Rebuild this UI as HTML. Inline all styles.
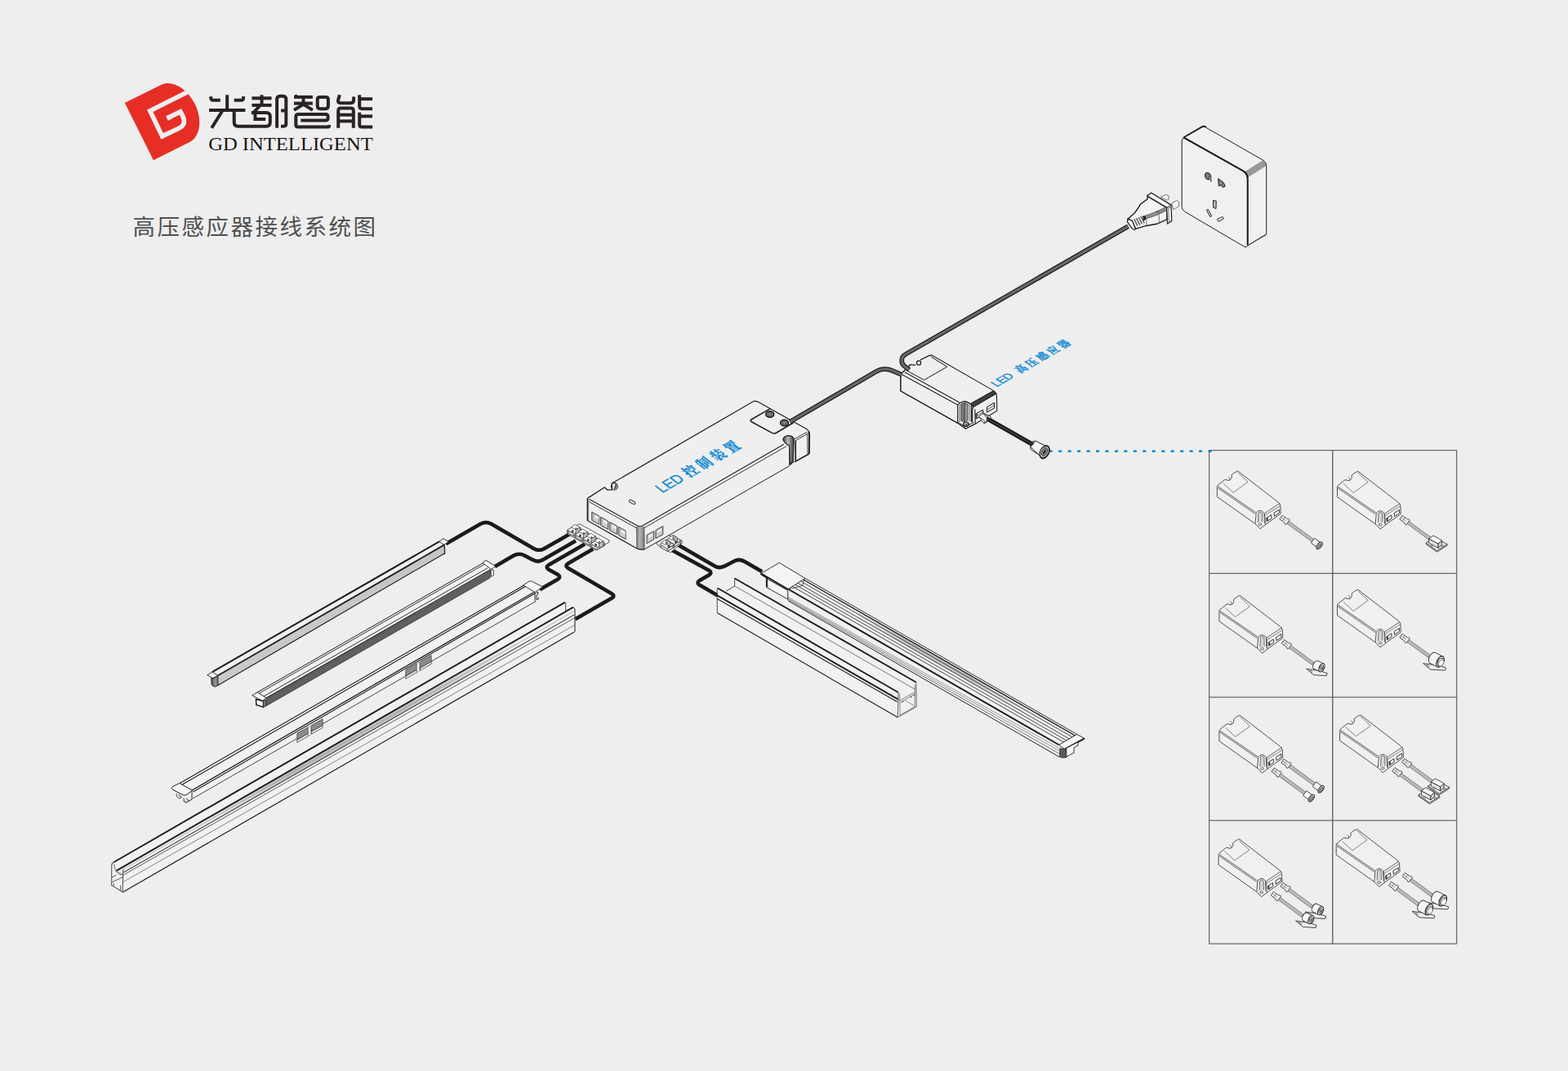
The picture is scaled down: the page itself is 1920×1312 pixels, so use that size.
<!DOCTYPE html>
<html><head><meta charset="utf-8"><title>GD Intelligent wiring diagram</title>
<style>html,body{margin:0;padding:0;background:#eeeeee;}svg{display:block}text{font-family:"Liberation Sans",sans-serif}</style>
</head><body>
<svg width="1920" height="1312" viewBox="0 0 1920 1312">
<rect width="1920" height="1312" fill="#eeeeee"/>
<path d="M152.8,126.1 L197.2,103.9 C210.3,97.3 228.8,107.7 238.5,127.1 C248.2,146.5 245.4,167.5 232.3,174.1 L187.9,196.3Z" fill="#e62e27"/>
<path d="M235.0,110.0 L183.7,135.7 L198.7,166.9 L219.4,157.0 C223.6,155.0 226.0,151.5 225.3,147.0 C224.8,143.5 223.3,140.5 221.0,136.9 L206.8,143.6 L208.2,146.6" fill="none" stroke="#eeeeee" stroke-width="5.6" stroke-linejoin="miter" stroke-miterlimit="6"/>
<g fill="none" stroke="#2a2323" stroke-width="4.0" stroke-linejoin="miter"><path d="M278.1,116.3 L278.1,134.9"/><path d="M258.0,118.2 L258.3,120.5 Q258.6,122.8 260.9,122.8 L269.8,122.8"/><path d="M298.2,118.2 L298.0,120.5 Q297.7,122.8 295.4,122.8 L286.7,122.8"/><path d="M256.0,134.9 L300.4,134.9"/><path d="M272.1,136.0 L259.2,156.7"/><path d="M286.7,134.9 L286.7,149.8 Q286.7,154.7 291.5,154.7 L325.9,154.7 Q330.8,154.7 330.8,149.8 L330.8,142.9 Q330.8,138.1 325.9,138.1 L307.9,138.1"/><path d="M308.4,120.3 L332.5,120.3"/><path d="M320.5,116.3 L320.5,128.9"/><path d="M308.4,128.9 L332.5,128.9"/><path d="M317.9,129.8 L309.0,139.5"/><path d="M312.4,138.9 L312.4,146.1 L325.1,146.1"/><path d="M339.1,156.7 L339.1,121.8 Q339.1,117.7 343.1,117.7 L346.2,117.7 Q350.3,117.7 350.3,121.8 L350.3,151.5 Q350.3,154.7 347.1,154.7 L344.0,154.7"/><path d="M344.0,135.5 L350.3,135.5"/><path d="M363.8,116.5 L361.5,119.5"/><path d="M360.0,118.9 L382.9,118.9"/><path d="M360.0,126.6 L382.9,126.6"/><path d="M371.5,118.9 L371.5,127.8"/><path d="M371.5,127.8 L360.0,134.9"/><path d="M371.5,127.8 L382.9,134.9"/><path d="M388.7,122.0 Q388.7,118.9 391.8,118.9 L398.7,118.9 Q401.9,118.9 401.9,122.0 L401.9,130.1 Q401.9,133.2 398.7,133.2 L391.8,133.2 Q388.7,133.2 388.7,130.1Z"/><path d="M368.3,147.5 L398.7,147.5 Q401.6,147.5 401.6,144.7 L401.6,142.9 Q401.6,140.1 398.7,140.1 L365.2,140.1 Q362.3,140.1 362.3,142.9 L362.3,152.7 Q362.3,155.6 365.2,155.6 L401.7,155.6 Q403.0,155.6 403.0,154.3 L403.0,153.0"/><path d="M415.9,116.3 L414.1,122.4 Q413.0,126.2 417.0,126.2 L429.3,126.2 Q433.1,126.2 433.1,122.4 L433.1,118.6"/><path d="M414.2,156.7 L414.2,135.8 Q414.2,132.6 417.3,132.6 L429.6,132.6 Q432.8,132.6 432.8,135.8 L432.8,156.7"/><path d="M414.2,140.7 L432.8,140.7"/><path d="M414.2,148.4 L432.8,148.4"/><path d="M440.2,116.3 L440.2,130.3 Q440.2,133.2 443.1,133.2 L456.0,133.2"/><path d="M440.2,121.2 L456.0,121.2"/><path d="M440.2,137.8 L440.2,152.7 Q440.2,155.6 443.1,155.6 L456.0,155.6"/><path d="M440.2,142.4 L456.0,142.4"/></g>
<text x="255.2" y="184.3" style="font-family:&quot;Liberation Serif&quot;,serif" font-size="22.6" fill="#1c1414" textLength="201.5" lengthAdjust="spacingAndGlyphs">GD INTELLIGENT</text>
<g transform="translate(162.50,287.50)" fill="#505050"><text x="0 30 60 90 120 150 180 210 240 270" y="0" font-size="27.5" style="font-family:&quot;Liberation Sans&quot;,&quot;Noto Sans CJK SC&quot;,sans-serif">高压感应器接线系统图</text></g>
<rect x="1480.7" y="551.7" width="303" height="604.4" fill="none" stroke="#4a4a4a" stroke-width="1"/>
<path d="M1631.8,551.7 L1631.8,1156.1" stroke="#4a4a4a" stroke-width="1.2" fill="none" />
<path d="M1480.7,702.4 L1783.7,702.4" stroke="#4a4a4a" stroke-width="1" fill="none" />
<path d="M1480.7,854.1 L1783.7,854.1" stroke="#4a4a4a" stroke-width="1" fill="none" />
<path d="M1480.7,1005.1 L1783.7,1005.1" stroke="#4a4a4a" stroke-width="1" fill="none" />
<path d="M1284.7,552.8 L1484,552.8" stroke="#0b86d1" stroke-width="2.4" stroke-dasharray="4 7.46" fill="none"/>
<path d="M719.7,610.3 L740.3,597.0 L748.5,592.4 L923.0,491.5 L925.3,491.0 L988.0,525.8 L990.7,529.5 L990.7,556.0 L974.2,565.1 L966.9,570.6 L789.2,672.9 L784.2,673.8 L780.0,672.0 L719.4,637.7Z" stroke="none" stroke-width="0" fill="#efefef" />
<defs><linearGradient id="gcor" x1="0" x2="1" y1="0" y2="0"><stop offset="0" stop-color="#6e6e6e"/><stop offset="0.35" stop-color="#b5b5b5"/><stop offset="0.7" stop-color="#9a9a9a"/><stop offset="1" stop-color="#6a6a6a"/></linearGradient><linearGradient id="gleft" x1="0" x2="1" y1="0" y2="0"><stop offset="0" stop-color="#222"/><stop offset="0.5" stop-color="#777" stop-opacity="0.8"/><stop offset="1" stop-color="#cfcfcf" stop-opacity="0"/></linearGradient></defs>
<path d="M779.4,645.2 L784.2,644.3 L788.9,645.2 L789.2,672.5 L784.2,673.8 L779.8,671.7Z" stroke="none" stroke-width="0" fill="url(#gcor)" />
<path d="M718.8,610.7 L722.0,611.9 L722.0,639.1 L718.8,637.5Z" stroke="none" stroke-width="0" fill="url(#gleft)" />
<path d="M720.3,609.9 L740.3,597.0 L743.7,600.0 L749.0,600.2" stroke="#1f1f1f" stroke-width="1.3" fill="none" />
<ellipse cx="752.3" cy="595.9" rx="3.9" ry="4.3" fill="#f4f4f4" stroke="#1f1f1f" stroke-width="1.1"/>
<path d="M752.6,592.0 Q757.2,594.7 753.5,599.5 L751.2,598.8 Q754.0,595.2 752.6,592.0Z" stroke="none" stroke-width="0" fill="#555" />
<path d="M749.4,600.2 L749.4,594.0" stroke="#1f1f1f" stroke-width="1.2" fill="none" />
<path d="M748.5,592.6 L922.8,491.6 Q925.3,491.0 927.8,492.1 L988.0,525.8 Q990.5,527.5 990.7,530.4" stroke="#1f1f1f" stroke-width="1.2" fill="none" />
<path d="M990.3,528.5 L990.9,531.3 L990.7,556.0" stroke="#1f1f1f" stroke-width="2.2" fill="none" />
<path d="M720.3,609.9 Q719.4,610.4 719.4,612.1 L719.4,637.7 L780.0,672.0 Q784.2,673.8 789.2,672.9" stroke="#1f1f1f" stroke-width="1.3" fill="none" />
<path d="M789.2,672.9 L966.9,570.6" stroke="#1f1f1f" stroke-width="1.0" fill="none" />
<path d="M721.5,611.4 L780.5,644.1 Q784.2,645.5 787.8,643.6 L959.8,544.3" stroke="#1f1f1f" stroke-width="1.1" fill="none" />
<path d="M721.2,614.6 L779.6,647.0" stroke="#1f1f1f" stroke-width="0.9" fill="none" />
<path d="M789.2,646.5 L962.8,546.7" stroke="#1f1f1f" stroke-width="0.9" fill="none" />
<path d="M779.4,645.2 L779.8,671.7" stroke="#555" stroke-width="0.8" fill="none" />
<path d="M788.9,645.2 L789.2,672.5" stroke="#555" stroke-width="0.8" fill="none" />
<path d="M724.7,627.2 L733.7,632.2 L733.7,642.5 L724.7,637.4Z" stroke="#3a3a3a" stroke-width="0.9" fill="#b4b4b4" />
<path d="M727.8,630.2 L733.2,633.2 L733.2,636.8 L727.8,633.8Z" stroke="none" stroke-width="0" fill="#f0f0f0" />
<path d="M726.9,634.1 L733.4,637.7" stroke="#e6e6e6" stroke-width="0.7" fill="none" />
<path d="M726.9,635.4 L733.4,639.0" stroke="#e6e6e6" stroke-width="0.7" fill="none" />
<path d="M726.9,636.7 L733.4,640.4" stroke="#e6e6e6" stroke-width="0.7" fill="none" />
<path d="M735.5,633.2 L744.5,638.3 L744.5,648.5 L735.5,643.5Z" stroke="#3a3a3a" stroke-width="0.9" fill="#b4b4b4" />
<path d="M738.6,636.2 L744.0,639.2 L744.0,642.8 L738.6,639.8Z" stroke="none" stroke-width="0" fill="#f0f0f0" />
<path d="M737.7,640.1 L744.2,643.7" stroke="#e6e6e6" stroke-width="0.7" fill="none" />
<path d="M737.7,641.4 L744.2,645.1" stroke="#e6e6e6" stroke-width="0.7" fill="none" />
<path d="M737.7,642.8 L744.2,646.4" stroke="#e6e6e6" stroke-width="0.7" fill="none" />
<path d="M746.3,639.3 L755.3,644.3 L755.3,654.5 L746.3,649.5Z" stroke="#3a3a3a" stroke-width="0.9" fill="#b4b4b4" />
<path d="M749.4,642.3 L754.8,645.3 L754.8,648.9 L749.4,645.8Z" stroke="none" stroke-width="0" fill="#f0f0f0" />
<path d="M748.5,646.2 L755.0,649.8" stroke="#e6e6e6" stroke-width="0.7" fill="none" />
<path d="M748.5,647.5 L755.0,651.1" stroke="#e6e6e6" stroke-width="0.7" fill="none" />
<path d="M748.5,648.8 L755.0,652.4" stroke="#e6e6e6" stroke-width="0.7" fill="none" />
<path d="M757.1,645.3 L766.1,650.3 L766.1,660.6 L757.1,655.5Z" stroke="#3a3a3a" stroke-width="0.9" fill="#b4b4b4" />
<path d="M760.2,648.3 L765.6,651.3 L765.6,654.9 L760.2,651.9Z" stroke="none" stroke-width="0" fill="#f0f0f0" />
<path d="M759.3,652.2 L765.8,655.8" stroke="#e6e6e6" stroke-width="0.7" fill="none" />
<path d="M759.3,653.5 L765.8,657.1" stroke="#e6e6e6" stroke-width="0.7" fill="none" />
<path d="M759.3,654.9 L765.8,658.5" stroke="#e6e6e6" stroke-width="0.7" fill="none" />
<path d="M792.0,655.5 L800.8,650.6 L800.8,660.8 L792.0,665.8Z" stroke="#3a3a3a" stroke-width="0.9" fill="#b4b4b4" />
<path d="M793.7,656.0 L799.0,653.0 L799.0,656.4 L793.7,659.4Z" stroke="none" stroke-width="0" fill="#f0f0f0" />
<path d="M792.8,660.7 L799.5,657.0" stroke="#e6e6e6" stroke-width="0.7" fill="none" />
<path d="M792.8,662.0 L799.5,658.3" stroke="#e6e6e6" stroke-width="0.7" fill="none" />
<path d="M792.8,663.3 L799.5,659.6" stroke="#e6e6e6" stroke-width="0.7" fill="none" />
<path d="M802.9,649.4 L811.8,644.5 L811.8,654.7 L802.9,659.7Z" stroke="#3a3a3a" stroke-width="0.9" fill="#b4b4b4" />
<path d="M804.7,649.9 L810.0,646.9 L810.0,650.3 L804.7,653.2Z" stroke="none" stroke-width="0" fill="#f0f0f0" />
<path d="M803.8,654.6 L810.5,650.8" stroke="#e6e6e6" stroke-width="0.7" fill="none" />
<path d="M803.8,655.9 L810.5,652.2" stroke="#e6e6e6" stroke-width="0.7" fill="none" />
<path d="M803.8,657.2 L810.5,653.5" stroke="#e6e6e6" stroke-width="0.7" fill="none" />
<rect x="769.9" y="613.5" width="8.4" height="3" rx="1.5" fill="#f6f6f6" stroke="#1f1f1f" stroke-width="0.9" transform="rotate(29 774.1 615.0)"/>
<path d="M943.1,500.6 L920.3,513.7 Q917.7,515.3 920.3,516.8 L945.4,530.4 Q947.9,531.8 950.5,530.2 L971.5,517.8" stroke="#1f1f1f" stroke-width="1.6" fill="none" />
<ellipse cx="942.7" cy="507.5" rx="5" ry="3.7" fill="#777" stroke="#1a1a1a" stroke-width="1.5"/>
<ellipse cx="942.7" cy="507.5" rx="2.2" ry="1.6" fill="#999" stroke="#333" stroke-width="0.6"/>
<ellipse cx="960.5" cy="518.0" rx="5" ry="3.7" fill="#777" stroke="#1a1a1a" stroke-width="1.5"/>
<ellipse cx="960.5" cy="518.0" rx="2.2" ry="1.6" fill="#999" stroke="#333" stroke-width="0.6"/>
<defs><linearGradient id="ggr" x1="0" x2="1" y1="0" y2="0"><stop offset="0" stop-color="#444"/><stop offset="0.45" stop-color="#bbb"/><stop offset="0.75" stop-color="#777"/><stop offset="1" stop-color="#333"/></linearGradient></defs>
<path d="M958.7,538.2 Q960.0,534.0 965.5,533.6 Q971.5,534.0 972.2,538.2 L971.0,566.1 L966.9,569.3 L966.5,545.9 Q960.5,543.2 958.7,538.2Z" stroke="#1f1f1f" stroke-width="1.1" fill="url(#ggr)" />
<path d="M966.5,545.9 L966.9,569.3 L969.2,568.4 L969.2,565.1" stroke="#1f1f1f" stroke-width="1.0" fill="none" />
<path d="M972.2,538.2 L988.0,529.3" stroke="#1f1f1f" stroke-width="0.9" fill="none" />
<path d="M974.2,539.7 L974.2,565.1 L990.7,556.0" stroke="#1f1f1f" stroke-width="1.6" fill="none" />
<path d="M974.2,539.7 L989.3,531.1" stroke="#1f1f1f" stroke-width="0.9" fill="none" />
<path d="M988.4,530.8 L988.9,556.5" stroke="#444" stroke-width="0.8" fill="none" />
<path d="M972.0,538.6 L971.5,566.1 L974.2,565.1" stroke="#444" stroke-width="0.8" fill="none" />
<g transform="matrix(0.7140,-0.4125,0.8120,0.6360,811.95,603.75)" fill="#128ad2" stroke="#128ad2" stroke-width="0.35"><text x="0" y="0" font-size="18.5" transform="translate(-1.2,0) scale(1.1,1)" style="font-family:&quot;Liberation Sans&quot;,sans-serif">LED</text><text x="45.4 69.2 93 116.8" y="0" font-size="18.5" font-weight="700" style="font-family:&quot;Liberation Serif&quot;,&quot;Noto Serif CJK SC&quot;,serif">控制装置</text></g>
<path d="M1103.7,457.5 L1140.8,435.1 L1216.7,478.6 L1220.4,483.1 L1220.8,503.3 L1194.3,519.3 L1182.4,525.2 L1172.8,518.4 L1102.8,479.0Z" stroke="none" stroke-width="0" fill="#efefef" />
<path d="M1140.8,435.1 L1216.7,478.6 Q1219.9,480.6 1220.4,484.0 L1220.8,503.3 L1194.3,519.3" stroke="#1f1f1f" stroke-width="1.1" fill="none" />
<path d="M1140.8,435.1 L1137.6,435.7 L1127.0,440.9 M1121.1,447.3 L1114.5,446.7 L1103.7,457.7" stroke="#1f1f1f" stroke-width="1.3" fill="none" />
<circle cx="1125.0" cy="444.5" r="2.6" fill="#f6f6f6" stroke="#1f1f1f" stroke-width="1.3"/>
<path d="M1139.9,436.9 L1159.7,449.3 L1131.6,465.5 L1110.3,454.0" stroke="#333" stroke-width="0.8" fill="none" />
<path d="M1103.7,457.7 L1102.8,460.3 L1102.8,479.0 L1172.8,518.4" stroke="#1f1f1f" stroke-width="1.1" fill="none" />
<path d="M1107.8,455.9 L1175.1,493.2" stroke="#1f1f1f" stroke-width="0.9" fill="none" />
<path d="M1104.6,458.9 L1172.8,496.1" stroke="#1f1f1f" stroke-width="0.9" fill="none" />
<path d="M1188.3,494.6 L1216.7,478.6 L1219.7,482.4 L1191.4,498.9Z" stroke="#222" stroke-width="0.8" fill="#3d3d3d" />
<path d="M1191.4,498.9 L1190.6,502.3 L1190.6,517.0" stroke="#1f1f1f" stroke-width="1.0" fill="none" />
<path d="M1193.8,501.4 L1194.3,519.3" stroke="#333" stroke-width="0.8" fill="none" />
<defs><linearGradient id="gboss" x1="0" x2="1" y1="0" y2="0"><stop offset="0" stop-color="#555"/><stop offset="0.3" stop-color="#8a8a8a"/><stop offset="0.5" stop-color="#444"/><stop offset="0.75" stop-color="#b0b0b0"/><stop offset="1" stop-color="#666"/></linearGradient></defs>
<path d="M1172.8,518.4 L1172.8,496.4 Q1180.1,487.7 1189.3,495.9 L1189.3,517.0" stroke="#1f1f1f" stroke-width="1.1" fill="#f2f2f2" />
<path d="M1175.1,517.0 L1175.1,496.9 Q1180.6,490.4 1187.0,496.9 L1187.0,516.1" stroke="#333" stroke-width="0.8" fill="none" />
<path d="M1176.9,515.6 L1176.9,495.9 Q1180.8,491.8 1185.0,495.9 L1185.0,515.1 Q1181.0,517.9 1176.9,515.6Z" stroke="#333" stroke-width="0.6" fill="url(#gboss)" />
<path d="M1172.8,518.4 L1182.4,525.2 L1194.3,519.3" stroke="#1f1f1f" stroke-width="1.1" fill="none" />
<path d="M1172.8,517.0 L1182.0,522.9 L1192.5,517.4" stroke="#333" stroke-width="0.8" fill="none" />
<ellipse cx="1182.9" cy="519.5" rx="3.1" ry="2.5" fill="#cfcfcf" stroke="#1a1a1a" stroke-width="1.2"/>
<ellipse cx="1183.2" cy="519.8" rx="1.3" ry="1.0" fill="#333"/>
<path d="M1194.8,507.1 L1203.5,502.1 L1203.9,507.8 L1195.2,512.9Z" stroke="#222" stroke-width="1.0" fill="#f3f3f3" />
<path d="M1194.8,510.1 L1203.5,505.1" stroke="#222" stroke-width="0.8" fill="none" />
<path d="M1194.8,507.1 L1194.8,512.4 L1197.0,511.5 L1197.0,506.0Z" stroke="none" stroke-width="0" fill="#555" />
<path d="M1208.5,498.9 L1217.6,493.4 L1217.6,499.8 L1208.5,504.9Z" stroke="#222" stroke-width="1.0" fill="#f3f3f3" />
<path d="M1208.5,501.9 L1217.6,496.7" stroke="#222" stroke-width="0.8" fill="none" />
<path d="M1210.2,513.7 L1263.7,544.2" stroke="#1e1e1e" stroke-width="5.4" fill="none" />
<path d="M1211.3,513.0 L1264.4,543.4" stroke="#3a3a3a" stroke-width="0.9" fill="none" />
<path d="M1198.6,510.6 L1204.8,506.1 L1213.3,510.6 L1212.6,513.7 L1206.8,518.1 L1204.8,517.8Z" stroke="#333" stroke-width="0.9" fill="#f4f4f4" />
<path d="M1200.3,509.9 L1207.2,514.0 L1206.8,517.8" stroke="#333" stroke-width="0.8" fill="none" />
<path d="M1204.8,506.5 L1210.6,510.2 L1207.5,513.0" stroke="#777" stroke-width="0.7" fill="none" />
<path d="M1263.0,542.8 Q1263.7,540.4 1266.5,540.4 L1281.6,546.9 L1273.7,558.2 L1262.4,550.7 Q1261.0,549.0 1262.0,545.6Z" stroke="#222" stroke-width="1.0" fill="#f8f8f8" />
<ellipse cx="1279.2" cy="553.9" rx="5.0" ry="8.3" transform="rotate(27 1279.2 553.9)" fill="#d9d9d9" stroke="#1a1a1a" stroke-width="1.6"/>
<ellipse cx="1279.2" cy="553.9" rx="3.2" ry="6.0" transform="rotate(27 1279.2 553.9)" fill="#a8a8a8" stroke="#444" stroke-width="0.7"/>
<ellipse cx="1278.9" cy="553.9" rx="1.2" ry="3.4" transform="rotate(27 1279.2 553.9)" fill="#111"/>
<path d="M1139.9,436.9 L1159.7,449.3 L1131.6,465.5 L1110.3,454.0" stroke="#333" stroke-width="0.8" fill="none" />
<path d="M1103.7,457.7 L1102.8,460.3 L1102.8,479.0 L1172.8,518.4" stroke="#1f1f1f" stroke-width="1.1" fill="none" />
<path d="M1107.8,455.9 L1175.1,493.2" stroke="#1f1f1f" stroke-width="0.9" fill="none" />
<path d="M1104.6,458.9 L1172.8,496.1" stroke="#1f1f1f" stroke-width="0.9" fill="none" />
<path d="M1188.3,494.6 L1216.7,478.6 L1219.7,482.4 L1191.4,498.9Z" stroke="#222" stroke-width="0.8" fill="#3d3d3d" />
<path d="M1191.4,498.9 L1190.6,502.3 L1190.6,517.0" stroke="#1f1f1f" stroke-width="1.0" fill="none" />
<path d="M1193.8,501.4 L1194.3,519.3" stroke="#333" stroke-width="0.8" fill="none" />
<defs><linearGradient id="gboss" x1="0" x2="1" y1="0" y2="0"><stop offset="0" stop-color="#555"/><stop offset="0.3" stop-color="#8a8a8a"/><stop offset="0.5" stop-color="#444"/><stop offset="0.75" stop-color="#b0b0b0"/><stop offset="1" stop-color="#666"/></linearGradient></defs>
<path d="M1172.8,518.4 L1172.8,496.4 Q1180.1,487.7 1189.3,495.9 L1189.3,517.0" stroke="#1f1f1f" stroke-width="1.1" fill="#f2f2f2" />
<path d="M1175.1,517.0 L1175.1,496.9 Q1180.6,490.4 1187.0,496.9 L1187.0,516.1" stroke="#333" stroke-width="0.8" fill="none" />
<path d="M1176.9,515.6 L1176.9,495.9 Q1180.8,491.8 1185.0,495.9 L1185.0,515.1 Q1181.0,517.9 1176.9,515.6Z" stroke="#333" stroke-width="0.6" fill="url(#gboss)" />
<path d="M1172.8,518.4 L1182.4,525.2 L1194.3,519.3" stroke="#1f1f1f" stroke-width="1.1" fill="none" />
<path d="M1172.8,517.0 L1182.0,522.9 L1192.5,517.4" stroke="#333" stroke-width="0.8" fill="none" />
<ellipse cx="1182.9" cy="519.5" rx="3.1" ry="2.5" fill="#cfcfcf" stroke="#1a1a1a" stroke-width="1.2"/>
<ellipse cx="1183.2" cy="519.8" rx="1.3" ry="1.0" fill="#333"/>
<path d="M1194.8,507.1 L1203.5,502.1 L1203.9,507.8 L1195.2,512.9Z" stroke="#222" stroke-width="1.0" fill="#f3f3f3" />
<path d="M1194.8,510.1 L1203.5,505.1" stroke="#222" stroke-width="0.8" fill="none" />
<path d="M1194.8,507.1 L1194.8,512.4 L1197.0,511.5 L1197.0,506.0Z" stroke="none" stroke-width="0" fill="#555" />
<path d="M1208.5,498.9 L1217.6,493.4 L1217.6,499.8 L1208.5,504.9Z" stroke="#222" stroke-width="1.0" fill="#f3f3f3" />
<path d="M1208.5,501.9 L1217.6,496.7" stroke="#222" stroke-width="0.8" fill="none" />
<path d="M1208.0,512.6 L1264.7,544.3" stroke="#1c1c1c" stroke-width="4.6" fill="none" />
<path d="M1208.0,512.6 L1264.7,544.3" stroke="#555" stroke-width="1.0" fill="none" />
<path d="M1198.4,510.1 L1203.9,506.5 L1208.9,510.1 L1207.6,517.0 L1204.8,518.8Z" stroke="#333" stroke-width="0.9" fill="#f4f4f4" />
<path d="M1200.2,511.5 L1205.7,515.6 L1205.5,518.4" stroke="#333" stroke-width="0.8" fill="none" />
<path d="M1203.9,506.5 L1208.0,512.4" stroke="#555" stroke-width="0.7" fill="none" />
<defs><linearGradient id="ghead" x1="0" x2="1" y1="0" y2="1"><stop offset="0" stop-color="#fff"/><stop offset="1" stop-color="#e4e4e4"/></linearGradient></defs>
<path d="M1262.1,547.6 L1268.2,540.0 L1281.2,546.9 L1275.8,560.6Z" stroke="#222" stroke-width="1.0" fill="#f7f7f7" />
<ellipse cx="1278.9" cy="553.7" rx="5.2" ry="7.8" transform="rotate(28 1278.9 553.7)" fill="#d8d8d8" stroke="#1a1a1a" stroke-width="1.2"/>
<ellipse cx="1278.9" cy="553.7" rx="3.2" ry="5.6" transform="rotate(28 1278.9 553.7)" fill="#8a8a8a" stroke="#222" stroke-width="0.8"/>
<ellipse cx="1278.9" cy="553.7" rx="1.2" ry="3.2" transform="rotate(28 1278.9 553.7)" fill="#222"/>
<g transform="matrix(0.7150,-0.4130,0.8460,0.5330,1221.25,473.75)" fill="#128ad2" stroke="#128ad2" stroke-width="0.35"><text x="0" y="0" font-size="14.5" transform="translate(-1.2,0) scale(1.1,1)" style="font-family:&quot;Liberation Sans&quot;,sans-serif">LED</text><text x="39.5 57.8 76.1 94.4 112.7" y="0" font-size="14.5" font-weight="700" style="font-family:&quot;Liberation Serif&quot;,&quot;Noto Serif CJK SC&quot;,serif">高压感应器</text></g>
<path d="M1381.5,277.3 L1108.6,434.1 Q1104.5,436.5 1104.2,441.2 L1104.2,441.2 Q1104.0,446.0 1107.8,448.8 L1113.5,453.0" stroke="#1a1a1a" stroke-width="5.7" fill="none" stroke-linecap="butt"/><path d="M1381.5,277.3 L1108.6,434.1 Q1104.5,436.5 1104.2,441.2 L1104.2,441.2 Q1104.0,446.0 1107.8,448.8 L1113.5,453.0" stroke="#686868" stroke-width="3.3" fill="none" stroke-linecap="butt"/>
<path d="M1104.5,459.2 L1093.3,454.3 Q1088.5,452.2 1083.2,452.2 L1083.2,452.2 Q1078.0,452.2 1073.5,454.8 L967.2,516.8" stroke="#1a1a1a" stroke-width="5.7" fill="none" stroke-linecap="butt"/><path d="M1104.5,459.2 L1093.3,454.3 Q1088.5,452.2 1083.2,452.2 L1083.2,452.2 Q1078.0,452.2 1073.5,454.8 L967.2,516.8" stroke="#686868" stroke-width="3.3" fill="none" stroke-linecap="butt"/>
<path d="M698.1,654.0 L666.5,671.9 Q660.0,675.6 653.5,671.9 L601.5,641.8 Q595.0,638.1 588.5,641.8 L546.0,666.3" stroke="#1b1b1b" stroke-width="4.6" fill="none" stroke-linejoin="round"/>
<path d="M705.0,662.5 L665.2,685.6 Q658.8,689.4 652.2,685.8 L642.2,680.5 Q635.6,676.9 629.1,680.6 L606.0,693.9" stroke="#1b1b1b" stroke-width="4.6" fill="none" stroke-linejoin="round"/>
<path d="M716.2,666.4 L672.4,691.7 Q667.0,694.8 672.4,697.9 L682.4,703.6 Q687.8,706.8 682.4,709.9 L661.0,722.2" stroke="#1b1b1b" stroke-width="4.6" fill="none" stroke-linejoin="round"/>
<path d="M726.2,672.6 L696.1,690.0 Q690.8,693.1 696.1,696.2 L748.6,726.9 Q754.0,730.0 748.6,733.1 L704.4,758.6" stroke="#1b1b1b" stroke-width="4.6" fill="none" stroke-linejoin="round"/>
<path d="M831.2,668.1 L874.8,693.2 Q881.2,696.9 887.9,693.3 L898.4,687.7 Q905.0,684.1 911.5,687.8 L933.1,700.3" stroke="#1b1b1b" stroke-width="4.6" fill="none" stroke-linejoin="round"/>
<path d="M822.5,673.8 L867.6,698.5 Q873.0,701.5 867.7,704.7 L857.2,710.8 Q851.9,714.0 857.3,717.1 L878.8,729.4" stroke="#1b1b1b" stroke-width="4.6" fill="none" stroke-linejoin="round"/>
<path d="M709.6,641.7 L745.8,661.8 L745.8,664.3 L729.0,673.5 L695.0,654.2 L695.0,650.0Z" stroke="#333" stroke-width="0.8" fill="#f3f3f3" />
<path d="M694.7,652.5 L704.3,647.0 L712.2,651.5 L702.7,657.0Z" stroke="#2e2e2e" stroke-width="0.8" fill="#dcdcdc" /><path d="M694.7,649.2 L704.3,643.8 L712.2,648.3 L702.7,653.8Z" stroke="#3a3a3a" stroke-width="0.8" fill="#f6f6f6" /><path d="M694.7,652.5 L694.7,649.2" stroke="#3a3a3a" stroke-width="0.7" fill="none" /><path d="M702.7,657.0 L702.7,653.8" stroke="#3a3a3a" stroke-width="0.7" fill="none" /><path d="M712.2,651.5 L712.2,648.3" stroke="#3a3a3a" stroke-width="0.7" fill="none" /><path d="M699.1,645.6 L704.3,642.6 L710.3,646.0 L705.1,649.1Z" stroke="#3a3a3a" stroke-width="0.7" fill="#fafafa" /><path d="M705.1,654.6 L705.1,649.1 L710.3,646.0 L710.3,651.5Z" stroke="#3a3a3a" stroke-width="0.7" fill="#bdbdbd" /><ellipse cx="701.1" cy="650.9" rx="1.5" ry="1.9" fill="#4a4a4a"/><ellipse cx="705.4" cy="647.8" rx="1.3" ry="1.6" fill="#666"/>
<path d="M704.0,658.1 L713.6,652.6 L721.5,657.1 L712.0,662.6Z" stroke="#2e2e2e" stroke-width="0.8" fill="#dcdcdc" /><path d="M704.0,654.9 L713.6,649.4 L721.5,653.9 L712.0,659.4Z" stroke="#3a3a3a" stroke-width="0.8" fill="#f6f6f6" /><path d="M704.0,658.1 L704.0,654.9" stroke="#3a3a3a" stroke-width="0.7" fill="none" /><path d="M712.0,662.6 L712.0,659.4" stroke="#3a3a3a" stroke-width="0.7" fill="none" /><path d="M721.5,657.1 L721.5,653.9" stroke="#3a3a3a" stroke-width="0.7" fill="none" /><path d="M708.4,651.2 L713.6,648.2 L719.6,651.6 L714.4,654.7Z" stroke="#3a3a3a" stroke-width="0.7" fill="#fafafa" /><path d="M714.4,660.2 L714.4,654.7 L719.6,651.6 L719.6,657.1Z" stroke="#3a3a3a" stroke-width="0.7" fill="#bdbdbd" /><ellipse cx="710.4" cy="656.5" rx="1.5" ry="1.9" fill="#4a4a4a"/><ellipse cx="714.7" cy="653.4" rx="1.3" ry="1.6" fill="#666"/>
<path d="M713.7,663.4 L723.3,657.9 L731.2,662.4 L721.7,667.9Z" stroke="#2e2e2e" stroke-width="0.8" fill="#dcdcdc" /><path d="M713.7,660.1 L723.3,654.6 L731.2,659.2 L721.7,664.7Z" stroke="#3a3a3a" stroke-width="0.8" fill="#f6f6f6" /><path d="M713.7,663.4 L713.7,660.1" stroke="#3a3a3a" stroke-width="0.7" fill="none" /><path d="M721.7,667.9 L721.7,664.7" stroke="#3a3a3a" stroke-width="0.7" fill="none" /><path d="M731.2,662.4 L731.2,659.2" stroke="#3a3a3a" stroke-width="0.7" fill="none" /><path d="M718.1,656.5 L723.3,653.5 L729.3,656.9 L724.1,660.0Z" stroke="#3a3a3a" stroke-width="0.7" fill="#fafafa" /><path d="M724.1,665.5 L724.1,660.0 L729.3,656.9 L729.3,662.4Z" stroke="#3a3a3a" stroke-width="0.7" fill="#bdbdbd" /><ellipse cx="720.1" cy="661.8" rx="1.5" ry="1.9" fill="#4a4a4a"/><ellipse cx="724.4" cy="658.7" rx="1.3" ry="1.6" fill="#666"/>
<path d="M723.1,669.2 L732.7,663.8 L740.6,668.3 L731.1,673.8Z" stroke="#2e2e2e" stroke-width="0.8" fill="#dcdcdc" /><path d="M723.1,666.0 L732.7,660.5 L740.6,665.1 L731.1,670.6Z" stroke="#3a3a3a" stroke-width="0.8" fill="#f6f6f6" /><path d="M723.1,669.2 L723.1,666.0" stroke="#3a3a3a" stroke-width="0.7" fill="none" /><path d="M731.1,673.8 L731.1,670.6" stroke="#3a3a3a" stroke-width="0.7" fill="none" /><path d="M740.6,668.3 L740.6,665.1" stroke="#3a3a3a" stroke-width="0.7" fill="none" /><path d="M727.5,662.4 L732.7,659.4 L738.7,662.8 L733.5,665.9Z" stroke="#3a3a3a" stroke-width="0.7" fill="#fafafa" /><path d="M733.5,671.4 L733.5,665.9 L738.7,662.8 L738.7,668.3Z" stroke="#3a3a3a" stroke-width="0.7" fill="#bdbdbd" /><ellipse cx="729.5" cy="667.7" rx="1.5" ry="1.9" fill="#4a4a4a"/><ellipse cx="733.8" cy="664.6" rx="1.3" ry="1.6" fill="#666"/>
<path d="M804.3,664.8 L818.8,656.0 L835.0,662.1 L835.0,665.4 L821.0,676.8 L804.3,666.8Z" stroke="#333" stroke-width="0.8" fill="#f3f3f3" />
<path d="M825.8,670.0 L816.3,664.5 L824.2,660.0 L833.8,665.5Z" stroke="#2e2e2e" stroke-width="0.8" fill="#dcdcdc" /><path d="M825.8,666.8 L816.3,661.3 L824.2,656.8 L833.8,662.2Z" stroke="#3a3a3a" stroke-width="0.8" fill="#f6f6f6" /><path d="M825.8,670.0 L825.8,666.8" stroke="#3a3a3a" stroke-width="0.7" fill="none" /><path d="M833.8,665.5 L833.8,662.2" stroke="#3a3a3a" stroke-width="0.7" fill="none" /><path d="M824.2,660.0 L824.2,656.8" stroke="#3a3a3a" stroke-width="0.7" fill="none" /><path d="M823.4,662.1 L818.2,659.0 L824.2,655.6 L829.4,658.6Z" stroke="#3a3a3a" stroke-width="0.7" fill="#fafafa" /><path d="M829.4,664.1 L829.4,658.6 L824.2,655.6 L824.2,661.1Z" stroke="#3a3a3a" stroke-width="0.7" fill="#bdbdbd" /><ellipse cx="827.4" cy="663.9" rx="1.5" ry="1.9" fill="#4a4a4a"/><ellipse cx="824.7" cy="659.9" rx="1.3" ry="1.6" fill="#666"/>
<path d="M817.3,675.4 L807.8,669.9 L815.7,665.4 L825.3,670.9Z" stroke="#2e2e2e" stroke-width="0.8" fill="#dcdcdc" /><path d="M817.3,672.2 L807.8,666.7 L815.7,662.1 L825.3,667.6Z" stroke="#3a3a3a" stroke-width="0.8" fill="#f6f6f6" /><path d="M817.3,675.4 L817.3,672.2" stroke="#3a3a3a" stroke-width="0.7" fill="none" /><path d="M825.3,670.9 L825.3,667.6" stroke="#3a3a3a" stroke-width="0.7" fill="none" /><path d="M815.7,665.4 L815.7,662.1" stroke="#3a3a3a" stroke-width="0.7" fill="none" /><path d="M814.9,667.5 L809.7,664.4 L815.7,661.0 L820.9,664.0Z" stroke="#3a3a3a" stroke-width="0.7" fill="#fafafa" /><path d="M820.9,669.5 L820.9,664.0 L815.7,661.0 L815.7,666.5Z" stroke="#3a3a3a" stroke-width="0.7" fill="#bdbdbd" /><ellipse cx="818.9" cy="669.3" rx="1.5" ry="1.9" fill="#4a4a4a"/><ellipse cx="816.2" cy="665.3" rx="1.3" ry="1.6" fill="#666"/>
<path d="M260.0,823.1 L538.0,663.4 L544.2,667.4 L544.2,678.0 L266.9,839.5 L266.9,827.5Z" stroke="none" stroke-width="0" fill="#f1f1f1" />
<path d="M266.9,827.5 L544.2,667.4 L544.2,678.0 L266.9,839.5Z" stroke="none" stroke-width="0" fill="#e9e9e9" />
<path d="M266.9,829.4 L544.2,669.1" stroke="#8a8a8a" stroke-width="0.55" fill="none" />
<path d="M266.9,831.1 L544.2,670.6" stroke="#8a8a8a" stroke-width="0.55" fill="none" />
<path d="M266.9,832.8 L544.2,672.1" stroke="#8a8a8a" stroke-width="0.55" fill="none" />
<path d="M266.9,834.5 L544.2,673.5" stroke="#8a8a8a" stroke-width="0.55" fill="none" />
<path d="M266.9,836.1 L544.2,675.0" stroke="#8a8a8a" stroke-width="0.55" fill="none" />
<path d="M266.9,837.8 L544.2,676.5" stroke="#8a8a8a" stroke-width="0.55" fill="none" />
<path d="M260.0,823.1 L538.0,663.4" stroke="#1c1c1c" stroke-width="2.0" fill="none" />
<path d="M266.9,827.5 L544.2,667.4" stroke="#1c1c1c" stroke-width="1.8" fill="none" />
<path d="M266.9,839.5 L544.2,678.0" stroke="#1c1c1c" stroke-width="1.2" fill="none" />
<path d="M537.7,663.4 L542.9,659.7 L549.2,663.4 L544.0,667.4Z" stroke="#1c1c1c" stroke-width="0.9" fill="#f6f6f6" />
<path d="M544.2,667.4 L544.7,677.7 L543.4,679.1" stroke="#1c1c1c" stroke-width="1.3" fill="none" />
<path d="M253.8,826.9 L260.0,823.1 L266.9,827.5 L260.6,831.0Z" stroke="#1c1c1c" stroke-width="0.9" fill="#f6f6f6" />
<defs><linearGradient id="gs1" x1="0" x2="1"><stop offset="0" stop-color="#4a4a4a"/><stop offset="0.6" stop-color="#9a9a9a"/><stop offset="1" stop-color="#6a6a6a"/></linearGradient></defs>
<path d="M258.8,830.2 L259.0,838.1 Q260.0,841.5 263.8,841.2 Q266.9,840.6 266.9,838.8 L266.9,828.1 L260.9,831.2Z" stroke="#1c1c1c" stroke-width="0.9" fill="url(#gs1)" />
<path d="M315.0,848.1 L591.5,689.7 L600.6,697.8 L600.0,708.0 L325.2,865.2 L326.2,855.0Z" stroke="none" stroke-width="0" fill="#f1f1f1" />
<defs><linearGradient id="gs2" x1="0" y1="0" x2="0.3" y2="1"><stop offset="0" stop-color="#4e4e4e"/><stop offset="1" stop-color="#7a7a7a"/></linearGradient></defs>
<path d="M326.2,856.2 L600.6,699.2 L600.0,708.0 L325.2,865.2Z" stroke="#333" stroke-width="0.8" fill="#606060" />
<path d="M315.0,848.1 L591.5,689.7" stroke="#1c1c1c" stroke-width="1.0" fill="none" />
<path d="M317.2,849.4 L593.7,691.0" stroke="#1c1c1c" stroke-width="0.9" fill="none" />
<path d="M322.9,853.0 L597.2,695.8" stroke="#1c1c1c" stroke-width="0.9" fill="none" />
<path d="M326.2,855.0 L600.6,697.8" stroke="#1c1c1c" stroke-width="1.2" fill="none" />
<path d="M590.9,689.4 L594.9,686.3 L606.9,693.7 L601.4,697.4Z" stroke="#1c1c1c" stroke-width="0.9" fill="#f6f6f6" />
<path d="M601.0,697.8 L604.2,698.3 L604.2,705.0 L601.4,706.3Z" stroke="#1c1c1c" stroke-width="0.8" fill="#fafafa" />
<path d="M308.8,851.9 L315.0,848.1 L326.2,855.0 L321.2,858.5Z" stroke="#1c1c1c" stroke-width="0.9" fill="#f6f6f6" />
<path d="M313.5,856.5 L322.5,859.0 L322.5,866.2 L313.8,863.5Z" stroke="#1c1c1c" stroke-width="1.5" fill="#f8f8f8" />
<path d="M322.5,859.0 L325.2,856.9 L325.2,865.0 L322.5,866.2Z" stroke="#1c1c1c" stroke-width="0.8" fill="#888" />
<path d="M220.2,959.4 L641.2,717.2 L653.8,725.5 L654.0,737.8 L235.8,978.3 L234.8,968.2Z" stroke="none" stroke-width="0" fill="#f1f1f1" />
<path d="M220.2,959.4 L641.2,717.2" stroke="#1c1c1c" stroke-width="1.1" fill="none" />
<path d="M223.3,961.0 L643.3,718.6" stroke="#1c1c1c" stroke-width="1.1" fill="none" />
<path d="M234.8,968.2 L653.8,725.5" stroke="#1c1c1c" stroke-width="1.3" fill="none" />
<path d="M236.6,969.9 L654.9,727.1" stroke="#1c1c1c" stroke-width="1.1" fill="none" />
<path d="M235.8,978.3 L654.0,737.8" stroke="#1c1c1c" stroke-width="0.8" fill="none" />
<path d="M640.6,716.8 L647.8,712.3 Q649.5,711.1 651.5,712.3 L664.6,718.9 L654.9,725.5Z" stroke="#1c1c1c" stroke-width="0.9" fill="#f6f6f6" />
<path d="M654.9,725.8 L655.2,737.4 L654.0,738.1" stroke="#1c1c1c" stroke-width="0.9" fill="none" />
<path d="M655.2,726.9 L658.9,725.2 L658.9,728.0 L657.0,729.0 L657.0,734.9 L659.3,734.0 L659.3,731.5" stroke="#1c1c1c" stroke-width="0.9" fill="none" />
<path d="M211.3,963.8 L219.7,959.4 L235.8,968.2 L228.0,973.8 Q225.9,974.8 223.3,973.5 L211.3,967.2 Q209.0,965.6 211.3,963.8Z" stroke="#1c1c1c" stroke-width="1.0" fill="#f6f6f6" />
<path d="M235.0,969.0 L235.0,979.2 L228.0,983.3 L224.4,981.2" stroke="#1c1c1c" stroke-width="0.9" fill="none" />
<path d="M216.0,971.9 Q215.5,977.1 220.2,978.1 L222.8,976.6 Q218.7,975.5 219.7,973.4" stroke="#444" stroke-width="0.9" fill="#ddd" />
<path d="M224.9,977.6 Q224.4,982.3 228.5,983.1 L231.7,980.7 Q228.0,980.2 228.8,977.9" stroke="#444" stroke-width="0.9" fill="#ddd" />
<path d="M363.8,898.6 L377.3,890.8 L377.3,898.6 L363.8,906.4Z" stroke="#333" stroke-width="0.7" fill="#8c8c8c" /><path d="M363.8,906.4 L377.3,898.6 L377.3,901.8 L363.8,909.6Z" stroke="#333" stroke-width="0.7" fill="#e8e8e8" /><path d="M381.6,888.5 L395.1,880.7 L395.1,888.5 L381.6,896.3Z" stroke="#333" stroke-width="0.7" fill="#8c8c8c" /><path d="M381.6,896.3 L395.1,888.5 L395.1,891.5 L381.6,899.3Z" stroke="#333" stroke-width="0.7" fill="#e8e8e8" /><path d="M377.4,891.0 L380.6,889.2 L380.6,900.0 L377.4,901.6Z" stroke="#555" stroke-width="0.5" fill="#fafafa" />
<path d="M496.8,820.6 L510.3,812.8 L510.3,820.6 L496.8,828.4Z" stroke="#333" stroke-width="0.7" fill="#8c8c8c" /><path d="M496.8,828.4 L510.3,820.6 L510.3,823.8 L496.8,831.6Z" stroke="#333" stroke-width="0.7" fill="#e8e8e8" /><path d="M514.6,810.5 L528.1,802.7 L528.1,810.5 L514.6,818.3Z" stroke="#333" stroke-width="0.7" fill="#8c8c8c" /><path d="M514.6,818.3 L528.1,810.5 L528.1,813.5 L514.6,821.3Z" stroke="#333" stroke-width="0.7" fill="#e8e8e8" /><path d="M510.4,813.0 L513.6,811.2 L513.6,822.0 L510.4,823.6Z" stroke="#555" stroke-width="0.5" fill="#fafafa" />
<path d="M139.3,1056.2 L691.8,737.9 L692.7,748.0 L701.9,743.9 L704.0,746.8 L704.0,773.7 L702.7,774.5 L150.7,1092.7 L137.0,1086.0 L137.0,1060.0Z" stroke="none" stroke-width="0" fill="#f1f1f1" />
<defs><linearGradient id="gs4" gradientUnits="userSpaceOnUse" x1="230" y1="1020" x2="640" y2="785"><stop offset="0" stop-color="#b8b8b8" stop-opacity="0"/><stop offset="0.3" stop-color="#b9b9b9" stop-opacity="0.95"/><stop offset="0.7" stop-color="#bdbdbd" stop-opacity="0.95"/><stop offset="1" stop-color="#b8b8b8" stop-opacity="0"/></linearGradient></defs>
<path d="M146.6,1065.1 L701.9,744.8 L703.1,752.9 L151.2,1068.5Z" stroke="none" stroke-width="0" fill="url(#gs4)" />
<path d="M691.8,737.9 L139.3,1056.2" stroke="#1c1c1c" stroke-width="1.9" fill="none" />
<path d="M701.9,743.9 L142.6,1066.6" stroke="#1c1c1c" stroke-width="1.9" fill="none" />
<path d="M702.7,748.9 L150.7,1065.1" stroke="#8a8a8a" stroke-width="0.6" fill="none" />
<path d="M703.1,753.1 L151.2,1068.8" stroke="#1c1c1c" stroke-width="1.0" fill="none" />
<path d="M703.6,756.9 L151.2,1071.9" stroke="#333" stroke-width="0.8" fill="none" />
<path d="M703.6,765.7 L151.2,1080.2" stroke="#555" stroke-width="0.7" fill="none" />
<path d="M702.7,774.5 L150.7,1092.7" stroke="#1c1c1c" stroke-width="1.2" fill="none" />
<path d="M691.8,737.9 L692.7,738.5 L692.7,748.2" stroke="#1c1c1c" stroke-width="0.8" fill="none" />
<path d="M701.9,743.9 Q704.0,744.5 704.0,747.5 L704.0,773.7 L702.7,774.5" stroke="#1c1c1c" stroke-width="1.0" fill="none" />
<path d="M139.3,1056.2 Q136.7,1057.3 136.7,1060.4 L136.7,1084.4 L150.2,1092.7 L150.7,1065.1" stroke="#555" stroke-width="1.1" fill="none" />
<path d="M139.8,1058.3 Q140.3,1070.8 149.7,1071.9" stroke="#666" stroke-width="1.0" fill="none" />
<path d="M136.9,1075.0 L142.4,1071.9 M137.2,1080.7 L150.2,1074.5 M139.3,1082.3 L139.3,1085.4 M147.6,1084.4 L147.6,1090.6" stroke="#555" stroke-width="1.0" fill="none" />
<path d="M141.9,1066.7 L150.7,1071.9" stroke="#666" stroke-width="0.8" fill="none" />
<path d="M899.6,708.5 L1121.7,835.8 L1122.1,865.4 L1099.2,878.8 L878.2,750.7 L878.8,720.5 L889.2,724.2 L899.6,717.9Z" stroke="none" stroke-width="0" fill="#f1f1f1" />
<path d="M899.6,717.9 L1121.8,845.2" stroke="#444" stroke-width="0.7" fill="none" />
<path d="M899.6,708.5 L1121.7,835.8" stroke="#1c1c1c" stroke-width="1.9" fill="none" />
<path d="M899.6,708.5 L899.6,717.9 L889.2,724.2" stroke="#1c1c1c" stroke-width="0.8" fill="none" />
<path d="M878.8,720.5 L1100.0,848.3 L1099.2,878.8 L878.2,750.7Z" stroke="none" stroke-width="0" fill="#f1f1f1" />
<path d="M878.8,720.5 L1100.0,848.3" stroke="#1c1c1c" stroke-width="1.9" fill="none" />
<path d="M878.2,729.4 L1100.4,857.1" stroke="#1c1c1c" stroke-width="1.9" fill="none" />
<path d="M878.2,733.5 L1098.6,859.7" stroke="#1c1c1c" stroke-width="1.1" fill="none" />
<path d="M878.2,750.7 L1099.2,878.8" stroke="#1c1c1c" stroke-width="1.1" fill="none" />
<path d="M878.2,720.5 L878.2,750.7" stroke="#1c1c1c" stroke-width="0.8" fill="none" />
<path d="M1121.7,836.0 L1122.2,865.4 L1099.3,878.8 L1100.0,848.5" stroke="#777" stroke-width="1.2" fill="none" />
<path d="M1101.7,849.3 L1102.1,876.2 L1120.0,865.8 L1120.2,839.2" stroke="#777" stroke-width="0.9" fill="none" />
<path d="M1101.7,858.3 L1120.4,847.7" stroke="#777" stroke-width="1.0" fill="none" />
<path d="M1102.1,860.8 L1120.2,850.4" stroke="#777" stroke-width="0.9" fill="none" />
<path d="M1107.5,857.5 L1120.2,865.0" stroke="#777" stroke-width="0.8" fill="none" />
<path d="M1104.2,859.6 L1105.8,858.3 L1105.8,860.2Z" stroke="#555" stroke-width="0.6" fill="#888" />
<path d="M1114.2,853.8 L1116.0,852.7 L1116.0,854.6Z" stroke="#555" stroke-width="0.6" fill="#888" />
<path d="M1117.9,851.5 L1119.6,850.5 L1119.6,852.3Z" stroke="#555" stroke-width="0.6" fill="#888" />
<path d="M931.9,702.5 L954.3,689.3 L1318.8,899.6 L1327.9,904.6 L1303.8,917.9 L1303.8,927.9 L1297.5,927.5 L964.7,734.1 L938.6,719.5 L938.6,708.5Z" stroke="none" stroke-width="0" fill="#f1f1f1" />
<defs><linearGradient id="gs5" gradientUnits="userSpaceOnUse" x1="1045" y1="755" x2="1265" y2="882"><stop offset="0" stop-color="#bbb" stop-opacity="0"/><stop offset="0.25" stop-color="#b8b8b8" stop-opacity="0.85"/><stop offset="0.65" stop-color="#b8b8b8" stop-opacity="0.85"/><stop offset="1" stop-color="#bbb" stop-opacity="0"/></linearGradient></defs>
<path d="M983.3,710.3 L1315.9,901.3 L1309.3,905.1 L976.9,714.2Z" stroke="none" stroke-width="0" fill="url(#gs5)" />
<path d="M986.0,708.5 L1318.8,899.6" stroke="#1c1c1c" stroke-width="0.9" fill="none" />
<path d="M983.7,710.0 L1316.3,901.0" stroke="#1c1c1c" stroke-width="1.4" fill="none" />
<path d="M980.5,712.0 L1313.0,902.9" stroke="#1c1c1c" stroke-width="0.8" fill="none" />
<path d="M976.9,714.2 L1309.3,905.1" stroke="#1c1c1c" stroke-width="0.8" fill="none" />
<path d="M973.7,716.2 L1305.9,907.1" stroke="#1c1c1c" stroke-width="0.8" fill="none" />
<path d="M970.2,718.3 L1302.4,909.1" stroke="#1c1c1c" stroke-width="0.8" fill="none" />
<path d="M931.9,702.5 L1296.7,912.5" stroke="#1c1c1c" stroke-width="2.0" fill="none" />
<path d="M964.7,731.3 L1297.5,916.7" stroke="#666" stroke-width="0.6" fill="none" />
<path d="M964.7,732.7 L1297.5,920.0" stroke="#555" stroke-width="0.6" fill="none" />
<path d="M964.7,734.1 L1297.5,923.5" stroke="#444" stroke-width="0.7" fill="none" />
<path d="M964.7,735.7 L1297.5,927.5" stroke="#222" stroke-width="1.0" fill="none" />
<path d="M931.9,702.5 L954.3,689.3 L986.0,708.5 L964.7,721.8Z" stroke="#1c1c1c" stroke-width="0.9" fill="#f4f4f4" />
<path d="M938.6,708.8 L964.7,723.3 L964.7,734.1 L938.6,719.5Z" stroke="#1c1c1c" stroke-width="0.9" fill="#f4f4f4" />
<path d="M931.4,702.8 L938.9,707.7 L938.9,719.2" stroke="#1c1c1c" stroke-width="2.0" fill="none" />
<path d="M931.9,702.5 L964.7,721.8" stroke="#1c1c1c" stroke-width="2.0" fill="none" />
<path d="M964.7,721.8 L982.9,717.4 L984.5,710.1" stroke="#333" stroke-width="0.8" fill="none" />
<path d="M1296.7,912.5 L1318.8,899.6 L1327.9,904.6 L1303.8,917.9Z" stroke="#1c1c1c" stroke-width="0.9" fill="#f6f6f6" />
<path d="M1327.9,904.6 L1303.8,917.9" stroke="#1c1c1c" stroke-width="2.0" fill="none" />
<path d="M1297.9,916.7 L1297.5,926.7 Q1300.0,929.2 1305.8,927.9 L1305.8,917.1 L1303.8,917.9Z" stroke="#222" stroke-width="0.8" fill="#5a5a5a" />
<path d="M1305.8,917.1 L1305.8,927.1 L1315.0,922.1 L1315.0,915.8 L1320.0,913.3 L1320.0,909.6" stroke="#222" stroke-width="0.9" fill="#f8f8f8" />
<path d="M1447.2,172.2 Q1447.2,168.1 1450.6,167.4 L1471.8,155.1 Q1474.2,154.0 1476.7,155.4 L1546.6,196.2 Q1550.7,198.7 1550.7,203.1 L1550.7,286.8 L1527.7,301.2 Q1526.0,303.5 1522.6,301.6 L1450.6,259.4 Q1447.2,257.3 1447.2,253.9Z" stroke="none" stroke-width="0" fill="#f0f0f0" />
<path d="M1524.7,210.7 L1546.9,196.5" stroke="#555" stroke-width="0.6" fill="none" />
<path d="M1525.0,211.3 L1547.3,197.2" stroke="#555" stroke-width="0.6" fill="none" />
<path d="M1525.4,212.0 L1547.7,197.8" stroke="#555" stroke-width="0.6" fill="none" />
<path d="M1525.8,212.7 L1548.2,198.5" stroke="#555" stroke-width="0.6" fill="none" />
<path d="M1526.2,213.4 L1548.6,199.1" stroke="#555" stroke-width="0.6" fill="none" />
<path d="M1526.6,214.1 L1549.0,199.8" stroke="#555" stroke-width="0.6" fill="none" />
<path d="M1526.9,214.8 L1549.5,200.5" stroke="#555" stroke-width="0.6" fill="none" />
<path d="M1527.3,215.5 L1549.9,201.1" stroke="#555" stroke-width="0.6" fill="none" />
<path d="M1527.7,216.1 L1550.3,201.8" stroke="#555" stroke-width="0.6" fill="none" />
<path d="M1528.1,216.8 L1550.7,202.4" stroke="#555" stroke-width="0.6" fill="none" />
<path d="M1474.2,154.8 L1546.6,196.2 Q1550.7,198.7 1550.7,203.1 L1550.7,286.8 L1527.7,300.8" stroke="#1c1c1c" stroke-width="1.0" fill="none" />
<path d="M1449.2,168.5 L1471.8,155.4 Q1474.2,154.0 1476.7,155.6" stroke="#1c1c1c" stroke-width="1.8" fill="none" />
<path d="M1447.2,172.9 Q1447.2,167.4 1452.0,169.4 L1522.2,209.3 Q1527.7,212.7 1527.7,218.9 L1527.7,299.1 Q1527.7,304.6 1522.6,301.6 L1451.3,259.6 Q1447.2,257.3 1447.2,252.5Z" stroke="#1c1c1c" stroke-width="1.0" fill="#f0f0f0" />
<path d="M1449.2,168.3 L1522.2,209.3 Q1527.7,212.7 1527.7,218.9 L1527.7,299.8" stroke="#1c1c1c" stroke-width="2.0" fill="none" />
<path d="M1528.8,300.2 L1550.7,287.5" stroke="#333" stroke-width="0.8" fill="none" />
<ellipse cx="1479.0" cy="215.7" rx="3.4" ry="4.3" transform="rotate(-25 1479.0 215.7)" fill="#7a7a7a" stroke="#222" stroke-width="1.1"/>
<path d="M1479.7,216.8 L1483.2,216.8 L1483.2,223.0Z" stroke="#333" stroke-width="0.6" fill="#999" />
<path d="M1491.7,219.3 L1492.4,227.8 L1495.8,226.4 Q1497.2,231.2 1500.0,227.8 Q1499.3,224.4 1494.5,220.9Z" stroke="#222" stroke-width="1.1" fill="#8a8a8a" />
<path d="M1485.6,245.4 L1489.3,246.3 L1489.0,255.5 L1485.6,254.2Z" stroke="#222" stroke-width="1.0" fill="#bdbdbd" />
<path d="M1477.3,257.3 L1479.1,256.3 L1483.8,264.6 L1481.9,265.7Z" stroke="#222" stroke-width="1.0" fill="#d8d8d8" />
<path d="M1490.4,268.7 L1497.0,265.5 L1498.3,267.9 L1492.0,271.4Z" stroke="#222" stroke-width="1.0" fill="#f8f8f8" />
<path d="M1421.3,241.3 L1428.3,238.3 L1431.0,239.8 L1431.0,244.1 L1428.9,245.3Z" stroke="#555" stroke-width="0.8" fill="#f5f5f5" />
<path d="M1434.7,249.0 L1441.1,245.6 L1443.8,247.7 L1443.5,252.9 L1436.8,256.6Z" stroke="#555" stroke-width="0.8" fill="#f5f5f5" />
<path d="M1405.4,240.6 L1404.8,244.1 L1396.6,249.9 Q1392.9,256.6 1388.7,261.5 L1381.0,268.2 L1386.2,270.6 L1390.5,280.4 L1402.7,276.7 L1416.7,274.3 L1428.9,268.8 L1428.7,254.3Z" stroke="#1c1c1c" stroke-width="1.4" fill="#f3f3f3" />
<path d="M1399.0,265.1 Q1411.8,261.5 1428.9,252.9 L1428.9,257.8 Q1414.9,265.1 1402.7,268.2Z" stroke="#444" stroke-width="0.6" fill="#8d8d8d" />
<path d="M1399.0,265.1 L1402.7,264.4 L1403.6,268.8 L1400.2,270.6Z" stroke="none" stroke-width="0" fill="#222" />
<path d="M1415.2,259.6 L1418.8,259.0 L1419.5,273.1 L1415.8,274.3" stroke="#555" stroke-width="0.8" fill="none" />
<path d="M1403.9,268.8 L1403.9,277.0" stroke="#555" stroke-width="0.8" fill="none" />
<path d="M1404.5,239.8 L1409.7,236.3 L1434.1,251.2 L1434.7,270.6 L1429.5,274.0 L1428.6,254.2Z" stroke="#1c1c1c" stroke-width="1.2" fill="#f7f7f7" />
<path d="M1406.3,240.7 L1430.7,255.1 L1431.3,271.8" stroke="#555" stroke-width="0.8" fill="none" />
<path d="M1428.6,254.2 L1434.1,251.2" stroke="#1c1c1c" stroke-width="0.8" fill="none" />
<path d="M1430.1,251.7 L1434.1,251.4 L1434.4,256.0 L1431.0,254.8Z" stroke="none" stroke-width="0" fill="#888" />
<path d="M1381.0,268.2 L1386.5,270.6 L1390.5,280.4 L1388.7,281.6 L1385.9,279.4 L1380.4,271.8Z" stroke="#1c1c1c" stroke-width="1.2" fill="#f5f5f5" />
<path d="M1388.7,268.2 L1392.9,276.7" stroke="#555" stroke-width="1.4" fill="none" />
<path d="M1391.4,267.1 L1395.7,275.6" stroke="#555" stroke-width="1.4" fill="none" />
<path d="M1394.2,266.0 L1398.4,274.5" stroke="#555" stroke-width="1.4" fill="none" />
<path d="M1396.9,264.9 L1401.2,273.4" stroke="#555" stroke-width="1.4" fill="none" />
<path d="M1515.8,577.1 L1565.4,615.5 L1567.8,618.5 L1568.3,629.2 L1549.4,642.7 L1543.0,647.8 L1537.1,641.7 L1490.4,608.6 L1490.4,595.8Z" stroke="none" stroke-width="0" fill="#f0f0f0" /><path d="M1515.8,577.1 L1512.1,578.7 L1508.0,581.9 M1503.0,588.0 L1499.8,587.6 L1491.3,594.4 Q1490.2,595.2 1490.4,596.8 L1490.4,608.6 L1537.1,641.7" stroke="#505050" stroke-width="1.0" fill="none" /><path d="M1508.0,581.9 Q1509.4,585.6 1506.2,588.0 Q1504.1,589.1 1502.7,588.0" stroke="#505050" stroke-width="1.0" fill="none" /><path d="M1504.1,584.0 Q1506.2,585.1 1505.7,587.6" stroke="#505050" stroke-width="0.8" fill="none" /><path d="M1515.8,577.1 L1565.2,615.3 Q1567.6,617.1 1567.8,619.8 L1568.3,629.2 L1549.4,642.7" stroke="#505050" stroke-width="1.0" fill="none" /><path d="M1515.8,579.0 L1528.1,590.4 L1510.1,603.3 L1497.7,592.0" stroke="#505050" stroke-width="0.7" fill="none" /><path d="M1491.3,595.8 L1537.7,627.8 L1537.1,629.4 L1490.7,597.4Z" stroke="none" stroke-width="0" fill="#c8c8c8" /><path d="M1491.3,595.8 L1537.7,627.8" stroke="#505050" stroke-width="0.8" fill="none" /><path d="M1490.7,597.6 L1536.8,629.6" stroke="#505050" stroke-width="0.7" fill="none" /><path d="M1548.4,628.9 L1567.0,616.6" stroke="#505050" stroke-width="0.9" fill="none" /><path d="M1549.2,631.3 L1567.8,619.4" stroke="#505050" stroke-width="0.7" fill="none" /><path d="M1548.6,629.4 L1549.4,642.7" stroke="#505050" stroke-width="0.9" fill="none" /><path d="M1537.1,641.7 L1538.2,628.3 Q1542.5,622.5 1547.8,628.3 L1548.4,641.1" stroke="#505050" stroke-width="1.0" fill="#f3f3f3" /><path d="M1540.3,640.1 L1540.9,628.3 Q1543.0,625.7 1545.4,628.3 L1545.7,639.5" stroke="#505050" stroke-width="0.8" fill="#d4d4d4" /><path d="M1537.1,641.7 L1543.0,647.8 L1549.6,642.7" stroke="#505050" stroke-width="1.0" fill="none" /><ellipse cx="1543.0" cy="642.4" rx="2.0" ry="1.5" fill="#ddd" stroke="#505050" stroke-width="0.8"/><path d="M1550.7,634.7 L1556.7,630.7 L1557.1,634.7 L1551.3,638.8Z" stroke="#333" stroke-width="1.0" fill="#f6f6f6" /><path d="M1550.7,634.7 L1551.3,638.8 L1552.8,637.7 L1552.6,633.7Z" stroke="none" stroke-width="0" fill="#444" /><path d="M1560.1,628.3 L1566.3,624.3 L1566.5,628.3 L1560.6,632.4Z" stroke="#333" stroke-width="1.0" fill="#f6f6f6" />
<path d="M1662.9,577.4 L1712.5,615.8 L1714.9,618.8 L1715.4,629.5 L1696.5,643.0 L1690.1,648.1 L1684.2,642.0 L1637.5,608.9 L1637.5,596.1Z" stroke="none" stroke-width="0" fill="#f0f0f0" /><path d="M1662.9,577.4 L1659.2,579.0 L1655.1,582.2 M1650.1,588.3 L1646.9,587.9 L1638.4,594.7 Q1637.3,595.5 1637.5,597.1 L1637.5,608.9 L1684.2,642.0" stroke="#505050" stroke-width="1.0" fill="none" /><path d="M1655.1,582.2 Q1656.5,585.9 1653.3,588.3 Q1651.2,589.4 1649.8,588.3" stroke="#505050" stroke-width="1.0" fill="none" /><path d="M1651.2,584.3 Q1653.3,585.4 1652.8,587.9" stroke="#505050" stroke-width="0.8" fill="none" /><path d="M1662.9,577.4 L1712.3,615.6 Q1714.7,617.4 1714.9,620.1 L1715.4,629.5 L1696.5,643.0" stroke="#505050" stroke-width="1.0" fill="none" /><path d="M1662.9,579.3 L1675.2,590.7 L1657.2,603.6 L1644.8,592.3" stroke="#505050" stroke-width="0.7" fill="none" /><path d="M1638.4,596.1 L1684.8,628.1 L1684.2,629.7 L1637.8,597.7Z" stroke="none" stroke-width="0" fill="#c8c8c8" /><path d="M1638.4,596.1 L1684.8,628.1" stroke="#505050" stroke-width="0.8" fill="none" /><path d="M1637.8,597.9 L1683.9,629.9" stroke="#505050" stroke-width="0.7" fill="none" /><path d="M1695.5,629.2 L1714.1,616.9" stroke="#505050" stroke-width="0.9" fill="none" /><path d="M1696.3,631.6 L1714.9,619.7" stroke="#505050" stroke-width="0.7" fill="none" /><path d="M1695.7,629.7 L1696.5,643.0" stroke="#505050" stroke-width="0.9" fill="none" /><path d="M1684.2,642.0 L1685.3,628.6 Q1689.6,622.8 1694.9,628.6 L1695.5,641.4" stroke="#505050" stroke-width="1.0" fill="#f3f3f3" /><path d="M1687.4,640.4 L1688.0,628.6 Q1690.1,626.0 1692.5,628.6 L1692.8,639.8" stroke="#505050" stroke-width="0.8" fill="#d4d4d4" /><path d="M1684.2,642.0 L1690.1,648.1 L1696.7,643.0" stroke="#505050" stroke-width="1.0" fill="none" /><ellipse cx="1690.1" cy="642.7" rx="2.0" ry="1.5" fill="#ddd" stroke="#505050" stroke-width="0.8"/><path d="M1697.8,635.0 L1703.8,631.0 L1704.2,635.0 L1698.4,639.1Z" stroke="#333" stroke-width="1.0" fill="#f6f6f6" /><path d="M1697.8,635.0 L1698.4,639.1 L1699.9,638.0 L1699.7,634.0Z" stroke="none" stroke-width="0" fill="#444" /><path d="M1707.2,628.6 L1713.4,624.6 L1713.6,628.6 L1707.7,632.7Z" stroke="#333" stroke-width="1.0" fill="#f6f6f6" />
<path d="M1518.3,729.5 L1567.9,767.9 L1570.3,770.9 L1570.8,781.6 L1551.9,795.1 L1545.5,800.2 L1539.6,794.1 L1492.9,761.0 L1492.9,748.2Z" stroke="none" stroke-width="0" fill="#f0f0f0" /><path d="M1518.3,729.5 L1514.6,731.1 L1510.5,734.3 M1505.5,740.4 L1502.3,740.0 L1493.8,746.8 Q1492.7,747.6 1492.9,749.2 L1492.9,761.0 L1539.6,794.1" stroke="#505050" stroke-width="1.0" fill="none" /><path d="M1510.5,734.3 Q1511.9,738.0 1508.7,740.4 Q1506.6,741.5 1505.2,740.4" stroke="#505050" stroke-width="1.0" fill="none" /><path d="M1506.6,736.4 Q1508.7,737.5 1508.2,740.0" stroke="#505050" stroke-width="0.8" fill="none" /><path d="M1518.3,729.5 L1567.7,767.7 Q1570.1,769.5 1570.3,772.2 L1570.8,781.6 L1551.9,795.1" stroke="#505050" stroke-width="1.0" fill="none" /><path d="M1518.3,731.4 L1530.6,742.8 L1512.6,755.7 L1500.2,744.4" stroke="#505050" stroke-width="0.7" fill="none" /><path d="M1493.8,748.2 L1540.2,780.2 L1539.6,781.8 L1493.2,749.8Z" stroke="none" stroke-width="0" fill="#c8c8c8" /><path d="M1493.8,748.2 L1540.2,780.2" stroke="#505050" stroke-width="0.8" fill="none" /><path d="M1493.2,750.0 L1539.3,782.0" stroke="#505050" stroke-width="0.7" fill="none" /><path d="M1550.9,781.3 L1569.5,769.0" stroke="#505050" stroke-width="0.9" fill="none" /><path d="M1551.7,783.7 L1570.3,771.8" stroke="#505050" stroke-width="0.7" fill="none" /><path d="M1551.1,781.8 L1551.9,795.1" stroke="#505050" stroke-width="0.9" fill="none" /><path d="M1539.6,794.1 L1540.7,780.7 Q1545.0,774.9 1550.3,780.7 L1550.9,793.5" stroke="#505050" stroke-width="1.0" fill="#f3f3f3" /><path d="M1542.8,792.5 L1543.4,780.7 Q1545.5,778.1 1547.9,780.7 L1548.2,791.9" stroke="#505050" stroke-width="0.8" fill="#d4d4d4" /><path d="M1539.6,794.1 L1545.5,800.2 L1552.1,795.1" stroke="#505050" stroke-width="1.0" fill="none" /><ellipse cx="1545.5" cy="794.8" rx="2.0" ry="1.5" fill="#ddd" stroke="#505050" stroke-width="0.8"/><path d="M1553.2,787.1 L1559.2,783.1 L1559.6,787.1 L1553.8,791.2Z" stroke="#333" stroke-width="1.0" fill="#f6f6f6" /><path d="M1553.2,787.1 L1553.8,791.2 L1555.3,790.1 L1555.1,786.1Z" stroke="none" stroke-width="0" fill="#444" /><path d="M1562.6,780.7 L1568.8,776.7 L1569.0,780.7 L1563.1,784.8Z" stroke="#333" stroke-width="1.0" fill="#f6f6f6" />
<path d="M1662.9,722.3 L1712.5,760.7 L1714.9,763.7 L1715.4,774.4 L1696.5,787.9 L1690.1,793.0 L1684.2,786.9 L1637.5,753.8 L1637.5,741.0Z" stroke="none" stroke-width="0" fill="#f0f0f0" /><path d="M1662.9,722.3 L1659.2,723.9 L1655.1,727.1 M1650.1,733.2 L1646.9,732.8 L1638.4,739.6 Q1637.3,740.4 1637.5,742.0 L1637.5,753.8 L1684.2,786.9" stroke="#505050" stroke-width="1.0" fill="none" /><path d="M1655.1,727.1 Q1656.5,730.8 1653.3,733.2 Q1651.2,734.3 1649.8,733.2" stroke="#505050" stroke-width="1.0" fill="none" /><path d="M1651.2,729.2 Q1653.3,730.3 1652.8,732.8" stroke="#505050" stroke-width="0.8" fill="none" /><path d="M1662.9,722.3 L1712.3,760.5 Q1714.7,762.3 1714.9,765.0 L1715.4,774.4 L1696.5,787.9" stroke="#505050" stroke-width="1.0" fill="none" /><path d="M1662.9,724.2 L1675.2,735.6 L1657.2,748.5 L1644.8,737.2" stroke="#505050" stroke-width="0.7" fill="none" /><path d="M1638.4,741.0 L1684.8,773.0 L1684.2,774.6 L1637.8,742.6Z" stroke="none" stroke-width="0" fill="#c8c8c8" /><path d="M1638.4,741.0 L1684.8,773.0" stroke="#505050" stroke-width="0.8" fill="none" /><path d="M1637.8,742.8 L1683.9,774.8" stroke="#505050" stroke-width="0.7" fill="none" /><path d="M1695.5,774.1 L1714.1,761.8" stroke="#505050" stroke-width="0.9" fill="none" /><path d="M1696.3,776.5 L1714.9,764.6" stroke="#505050" stroke-width="0.7" fill="none" /><path d="M1695.7,774.6 L1696.5,787.9" stroke="#505050" stroke-width="0.9" fill="none" /><path d="M1684.2,786.9 L1685.3,773.5 Q1689.6,767.7 1694.9,773.5 L1695.5,786.3" stroke="#505050" stroke-width="1.0" fill="#f3f3f3" /><path d="M1687.4,785.3 L1688.0,773.5 Q1690.1,770.9 1692.5,773.5 L1692.8,784.7" stroke="#505050" stroke-width="0.8" fill="#d4d4d4" /><path d="M1684.2,786.9 L1690.1,793.0 L1696.7,787.9" stroke="#505050" stroke-width="1.0" fill="none" /><ellipse cx="1690.1" cy="787.6" rx="2.0" ry="1.5" fill="#ddd" stroke="#505050" stroke-width="0.8"/><path d="M1697.8,779.9 L1703.8,775.9 L1704.2,779.9 L1698.4,784.0Z" stroke="#333" stroke-width="1.0" fill="#f6f6f6" /><path d="M1697.8,779.9 L1698.4,784.0 L1699.9,782.9 L1699.7,778.9Z" stroke="none" stroke-width="0" fill="#444" /><path d="M1707.2,773.5 L1713.4,769.5 L1713.6,773.5 L1707.7,777.6Z" stroke="#333" stroke-width="1.0" fill="#f6f6f6" />
<path d="M1518.3,876.3 L1567.9,914.7 L1570.3,917.7 L1570.8,928.4 L1551.9,941.9 L1545.5,947.0 L1539.6,940.9 L1492.9,907.8 L1492.9,895.0Z" stroke="none" stroke-width="0" fill="#f0f0f0" /><path d="M1518.3,876.3 L1514.6,877.9 L1510.5,881.1 M1505.5,887.2 L1502.3,886.8 L1493.8,893.6 Q1492.7,894.4 1492.9,896.0 L1492.9,907.8 L1539.6,940.9" stroke="#505050" stroke-width="1.0" fill="none" /><path d="M1510.5,881.1 Q1511.9,884.8 1508.7,887.2 Q1506.6,888.3 1505.2,887.2" stroke="#505050" stroke-width="1.0" fill="none" /><path d="M1506.6,883.2 Q1508.7,884.3 1508.2,886.8" stroke="#505050" stroke-width="0.8" fill="none" /><path d="M1518.3,876.3 L1567.7,914.5 Q1570.1,916.3 1570.3,919.0 L1570.8,928.4 L1551.9,941.9" stroke="#505050" stroke-width="1.0" fill="none" /><path d="M1518.3,878.2 L1530.6,889.6 L1512.6,902.5 L1500.2,891.2" stroke="#505050" stroke-width="0.7" fill="none" /><path d="M1493.8,895.0 L1540.2,927.0 L1539.6,928.6 L1493.2,896.6Z" stroke="none" stroke-width="0" fill="#c8c8c8" /><path d="M1493.8,895.0 L1540.2,927.0" stroke="#505050" stroke-width="0.8" fill="none" /><path d="M1493.2,896.8 L1539.3,928.8" stroke="#505050" stroke-width="0.7" fill="none" /><path d="M1550.9,928.1 L1569.5,915.8" stroke="#505050" stroke-width="0.9" fill="none" /><path d="M1551.7,930.5 L1570.3,918.6" stroke="#505050" stroke-width="0.7" fill="none" /><path d="M1551.1,928.6 L1551.9,941.9" stroke="#505050" stroke-width="0.9" fill="none" /><path d="M1539.6,940.9 L1540.7,927.5 Q1545.0,921.7 1550.3,927.5 L1550.9,940.3" stroke="#505050" stroke-width="1.0" fill="#f3f3f3" /><path d="M1542.8,939.3 L1543.4,927.5 Q1545.5,924.9 1547.9,927.5 L1548.2,938.7" stroke="#505050" stroke-width="0.8" fill="#d4d4d4" /><path d="M1539.6,940.9 L1545.5,947.0 L1552.1,941.9" stroke="#505050" stroke-width="1.0" fill="none" /><ellipse cx="1545.5" cy="941.6" rx="2.0" ry="1.5" fill="#ddd" stroke="#505050" stroke-width="0.8"/><path d="M1553.2,933.9 L1559.2,929.9 L1559.6,933.9 L1553.8,938.0Z" stroke="#333" stroke-width="1.0" fill="#f6f6f6" /><path d="M1553.2,933.9 L1553.8,938.0 L1555.3,936.9 L1555.1,932.9Z" stroke="none" stroke-width="0" fill="#444" /><path d="M1562.6,927.5 L1568.8,923.5 L1569.0,927.5 L1563.1,931.6Z" stroke="#333" stroke-width="1.0" fill="#f6f6f6" />
<path d="M1666.0,875.8 L1715.6,914.2 L1718.0,917.2 L1718.5,927.9 L1699.6,941.4 L1693.2,946.5 L1687.3,940.4 L1640.6,907.3 L1640.6,894.5Z" stroke="none" stroke-width="0" fill="#f0f0f0" /><path d="M1666.0,875.8 L1662.3,877.4 L1658.2,880.6 M1653.2,886.7 L1650.0,886.3 L1641.5,893.1 Q1640.4,893.9 1640.6,895.5 L1640.6,907.3 L1687.3,940.4" stroke="#505050" stroke-width="1.0" fill="none" /><path d="M1658.2,880.6 Q1659.6,884.3 1656.4,886.7 Q1654.3,887.8 1652.9,886.7" stroke="#505050" stroke-width="1.0" fill="none" /><path d="M1654.3,882.7 Q1656.4,883.8 1655.9,886.3" stroke="#505050" stroke-width="0.8" fill="none" /><path d="M1666.0,875.8 L1715.4,914.0 Q1717.8,915.8 1718.0,918.5 L1718.5,927.9 L1699.6,941.4" stroke="#505050" stroke-width="1.0" fill="none" /><path d="M1666.0,877.7 L1678.3,889.1 L1660.3,902.0 L1647.9,890.7" stroke="#505050" stroke-width="0.7" fill="none" /><path d="M1641.5,894.5 L1687.9,926.5 L1687.3,928.1 L1640.9,896.1Z" stroke="none" stroke-width="0" fill="#c8c8c8" /><path d="M1641.5,894.5 L1687.9,926.5" stroke="#505050" stroke-width="0.8" fill="none" /><path d="M1640.9,896.3 L1687.0,928.3" stroke="#505050" stroke-width="0.7" fill="none" /><path d="M1698.6,927.6 L1717.2,915.3" stroke="#505050" stroke-width="0.9" fill="none" /><path d="M1699.4,930.0 L1718.0,918.1" stroke="#505050" stroke-width="0.7" fill="none" /><path d="M1698.8,928.1 L1699.6,941.4" stroke="#505050" stroke-width="0.9" fill="none" /><path d="M1687.3,940.4 L1688.4,927.0 Q1692.7,921.2 1698.0,927.0 L1698.6,939.8" stroke="#505050" stroke-width="1.0" fill="#f3f3f3" /><path d="M1690.5,938.8 L1691.1,927.0 Q1693.2,924.4 1695.6,927.0 L1695.9,938.2" stroke="#505050" stroke-width="0.8" fill="#d4d4d4" /><path d="M1687.3,940.4 L1693.2,946.5 L1699.8,941.4" stroke="#505050" stroke-width="1.0" fill="none" /><ellipse cx="1693.2" cy="941.1" rx="2.0" ry="1.5" fill="#ddd" stroke="#505050" stroke-width="0.8"/><path d="M1700.9,933.4 L1706.9,929.4 L1707.3,933.4 L1701.5,937.5Z" stroke="#333" stroke-width="1.0" fill="#f6f6f6" /><path d="M1700.9,933.4 L1701.5,937.5 L1703.0,936.4 L1702.8,932.4Z" stroke="none" stroke-width="0" fill="#444" /><path d="M1710.3,927.0 L1716.5,923.0 L1716.7,927.0 L1710.8,931.1Z" stroke="#333" stroke-width="1.0" fill="#f6f6f6" />
<path d="M1517.5,1027.9 L1567.1,1066.3 L1569.5,1069.3 L1570.0,1080.0 L1551.1,1093.5 L1544.7,1098.6 L1538.8,1092.5 L1492.1,1059.4 L1492.1,1046.6Z" stroke="none" stroke-width="0" fill="#f0f0f0" /><path d="M1517.5,1027.9 L1513.8,1029.5 L1509.7,1032.7 M1504.7,1038.8 L1501.5,1038.4 L1493.0,1045.2 Q1491.9,1046.0 1492.1,1047.6 L1492.1,1059.4 L1538.8,1092.5" stroke="#505050" stroke-width="1.0" fill="none" /><path d="M1509.7,1032.7 Q1511.1,1036.4 1507.9,1038.8 Q1505.8,1039.9 1504.4,1038.8" stroke="#505050" stroke-width="1.0" fill="none" /><path d="M1505.8,1034.8 Q1507.9,1035.9 1507.4,1038.4" stroke="#505050" stroke-width="0.8" fill="none" /><path d="M1517.5,1027.9 L1566.9,1066.1 Q1569.3,1067.9 1569.5,1070.6 L1570.0,1080.0 L1551.1,1093.5" stroke="#505050" stroke-width="1.0" fill="none" /><path d="M1517.5,1029.8 L1529.8,1041.2 L1511.8,1054.1 L1499.4,1042.8" stroke="#505050" stroke-width="0.7" fill="none" /><path d="M1493.0,1046.6 L1539.4,1078.6 L1538.8,1080.2 L1492.4,1048.2Z" stroke="none" stroke-width="0" fill="#c8c8c8" /><path d="M1493.0,1046.6 L1539.4,1078.6" stroke="#505050" stroke-width="0.8" fill="none" /><path d="M1492.4,1048.4 L1538.5,1080.4" stroke="#505050" stroke-width="0.7" fill="none" /><path d="M1550.1,1079.7 L1568.7,1067.4" stroke="#505050" stroke-width="0.9" fill="none" /><path d="M1550.9,1082.1 L1569.5,1070.2" stroke="#505050" stroke-width="0.7" fill="none" /><path d="M1550.3,1080.2 L1551.1,1093.5" stroke="#505050" stroke-width="0.9" fill="none" /><path d="M1538.8,1092.5 L1539.9,1079.1 Q1544.2,1073.3 1549.5,1079.1 L1550.1,1091.9" stroke="#505050" stroke-width="1.0" fill="#f3f3f3" /><path d="M1542.0,1090.9 L1542.6,1079.1 Q1544.7,1076.5 1547.1,1079.1 L1547.4,1090.3" stroke="#505050" stroke-width="0.8" fill="#d4d4d4" /><path d="M1538.8,1092.5 L1544.7,1098.6 L1551.3,1093.5" stroke="#505050" stroke-width="1.0" fill="none" /><ellipse cx="1544.7" cy="1093.2" rx="2.0" ry="1.5" fill="#ddd" stroke="#505050" stroke-width="0.8"/><path d="M1552.4,1085.5 L1558.4,1081.5 L1558.8,1085.5 L1553.0,1089.6Z" stroke="#333" stroke-width="1.0" fill="#f6f6f6" /><path d="M1552.4,1085.5 L1553.0,1089.6 L1554.5,1088.5 L1554.3,1084.5Z" stroke="none" stroke-width="0" fill="#444" /><path d="M1561.8,1079.1 L1568.0,1075.1 L1568.2,1079.1 L1562.3,1083.2Z" stroke="#333" stroke-width="1.0" fill="#f6f6f6" />
<path d="M1661.6,1015.7 L1711.2,1054.1 L1713.6,1057.1 L1714.1,1067.8 L1695.2,1081.3 L1688.8,1086.4 L1682.9,1080.3 L1636.2,1047.2 L1636.2,1034.4Z" stroke="none" stroke-width="0" fill="#f0f0f0" /><path d="M1661.6,1015.7 L1657.9,1017.3 L1653.8,1020.5 M1648.8,1026.6 L1645.6,1026.2 L1637.1,1033.0 Q1636.0,1033.8 1636.2,1035.4 L1636.2,1047.2 L1682.9,1080.3" stroke="#505050" stroke-width="1.0" fill="none" /><path d="M1653.8,1020.5 Q1655.2,1024.2 1652.0,1026.6 Q1649.9,1027.7 1648.5,1026.6" stroke="#505050" stroke-width="1.0" fill="none" /><path d="M1649.9,1022.6 Q1652.0,1023.7 1651.5,1026.2" stroke="#505050" stroke-width="0.8" fill="none" /><path d="M1661.6,1015.7 L1711.0,1053.9 Q1713.4,1055.7 1713.6,1058.4 L1714.1,1067.8 L1695.2,1081.3" stroke="#505050" stroke-width="1.0" fill="none" /><path d="M1661.6,1017.6 L1673.9,1029.0 L1655.9,1041.9 L1643.5,1030.6" stroke="#505050" stroke-width="0.7" fill="none" /><path d="M1637.1,1034.4 L1683.5,1066.4 L1682.9,1068.0 L1636.5,1036.0Z" stroke="none" stroke-width="0" fill="#c8c8c8" /><path d="M1637.1,1034.4 L1683.5,1066.4" stroke="#505050" stroke-width="0.8" fill="none" /><path d="M1636.5,1036.2 L1682.6,1068.2" stroke="#505050" stroke-width="0.7" fill="none" /><path d="M1694.2,1067.5 L1712.8,1055.2" stroke="#505050" stroke-width="0.9" fill="none" /><path d="M1695.0,1069.9 L1713.6,1058.0" stroke="#505050" stroke-width="0.7" fill="none" /><path d="M1694.4,1068.0 L1695.2,1081.3" stroke="#505050" stroke-width="0.9" fill="none" /><path d="M1682.9,1080.3 L1684.0,1066.9 Q1688.3,1061.1 1693.6,1066.9 L1694.2,1079.7" stroke="#505050" stroke-width="1.0" fill="#f3f3f3" /><path d="M1686.1,1078.7 L1686.7,1066.9 Q1688.8,1064.3 1691.2,1066.9 L1691.5,1078.1" stroke="#505050" stroke-width="0.8" fill="#d4d4d4" /><path d="M1682.9,1080.3 L1688.8,1086.4 L1695.4,1081.3" stroke="#505050" stroke-width="1.0" fill="none" /><ellipse cx="1688.8" cy="1081.0" rx="2.0" ry="1.5" fill="#ddd" stroke="#505050" stroke-width="0.8"/><path d="M1696.5,1073.3 L1702.5,1069.3 L1702.9,1073.3 L1697.1,1077.4Z" stroke="#333" stroke-width="1.0" fill="#f6f6f6" /><path d="M1696.5,1073.3 L1697.1,1077.4 L1698.6,1076.3 L1698.4,1072.3Z" stroke="none" stroke-width="0" fill="#444" /><path d="M1705.9,1066.9 L1712.1,1062.9 L1712.3,1066.9 L1706.4,1071.0Z" stroke="#333" stroke-width="1.0" fill="#f6f6f6" />
<path d="M1577.3,637.6 L1609.5,661.3 L1607.3,664.4 L1575.0,640.7Z" stroke="#505050" stroke-width="0.7" fill="#cfcfcf" /><path d="M1576.5,638.7 L1608.7,662.3" stroke="#8a8a8a" stroke-width="0.5" fill="none" /><path d="M1575.7,639.7 L1608.0,663.4" stroke="#8a8a8a" stroke-width="0.5" fill="none" /><path d="M1570.1,631.3 L1576.6,636.0 L1577.2,635.2 L1579.2,636.7 L1574.7,642.8 L1572.7,641.3 L1573.3,640.5 L1566.8,635.8Z" stroke="#3c3c3c" stroke-width="0.9" fill="#f4f4f4" /><path d="M1568.5,633.5 L1574.9,638.3" stroke="#505050" stroke-width="0.6" fill="none" /><path d="M1573.4,633.6 L1570.0,638.2" stroke="#505050" stroke-width="0.6" fill="none" /><path d="M1609.7,659.3 L1617.0,664.7 L1612.7,670.5 L1605.4,665.1Z" stroke="#333" stroke-width="0.9" fill="#f8f8f8" /><ellipse cx="1615.6" cy="668.2" rx="2.6" ry="5.0" transform="rotate(36 1615.6 668.2)" fill="#dcdcdc" stroke="#2a2a2a" stroke-width="1.0"/><ellipse cx="1615.9" cy="668.4" rx="1.3" ry="3.3" transform="rotate(36 1615.6 668.2)" fill="#9a9a9a" stroke="#333" stroke-width="0.6"/>
<path d="M1724.4,637.9 L1751.8,658.0 L1749.5,661.1 L1722.1,641.0Z" stroke="#505050" stroke-width="0.7" fill="#cfcfcf" /><path d="M1723.6,639.0 L1751.0,659.1" stroke="#8a8a8a" stroke-width="0.5" fill="none" /><path d="M1722.8,640.0 L1750.2,660.1" stroke="#8a8a8a" stroke-width="0.5" fill="none" /><path d="M1717.2,631.6 L1723.7,636.3 L1724.3,635.5 L1726.3,637.0 L1721.8,643.1 L1719.8,641.6 L1720.4,640.8 L1713.9,636.1Z" stroke="#3c3c3c" stroke-width="0.9" fill="#f4f4f4" /><path d="M1715.6,633.8 L1722.0,638.6" stroke="#505050" stroke-width="0.6" fill="none" /><path d="M1720.5,633.9 L1717.1,638.5" stroke="#505050" stroke-width="0.6" fill="none" /><path d="M1746.1,665.1 L1756.6,658.6 L1772.1,666.6 L1759.6,674.6Z" stroke="#333" stroke-width="0.9" fill="#f2f2f2" /><path d="M1746.1,665.1 L1746.1,666.6 L1759.6,676.2 L1772.1,668.2 L1772.1,666.6" stroke="#333" stroke-width="0.9" fill="none" /><path d="M1749.6,660.1 L1761.1,666.1 L1761.1,671.3 L1749.6,665.3Z" stroke="#333" stroke-width="0.9" fill="#e4e4e4" /><path d="M1761.1,666.1 L1765.6,662.1 L1765.6,667.3 L1761.1,671.3Z" stroke="#333" stroke-width="0.9" fill="#d2d2d2" /><path d="M1749.6,660.1 L1755.1,656.1 L1765.6,662.1 L1761.1,666.1Z" stroke="#333" stroke-width="0.9" fill="#fafafa" /><ellipse cx="1766.4" cy="668.8" rx="1.6" ry="1.0" fill="#ccc" stroke="#444" stroke-width="0.6"/><ellipse cx="1753.8" cy="667.9" rx="1.4" ry="0.9" fill="#ccc" stroke="#444" stroke-width="0.6"/>
<path d="M1579.8,790.0 L1608.8,811.3 L1606.5,814.4 L1577.5,793.1Z" stroke="#505050" stroke-width="0.7" fill="#cfcfcf" /><path d="M1579.0,791.1 L1608.0,812.4" stroke="#8a8a8a" stroke-width="0.5" fill="none" /><path d="M1578.2,792.1 L1607.2,813.4" stroke="#8a8a8a" stroke-width="0.5" fill="none" /><path d="M1572.6,783.7 L1579.1,788.4 L1579.7,787.6 L1581.7,789.1 L1577.2,795.2 L1575.2,793.7 L1575.8,792.9 L1569.3,788.2Z" stroke="#3c3c3c" stroke-width="0.9" fill="#f4f4f4" /><path d="M1571.0,785.9 L1577.4,790.7" stroke="#505050" stroke-width="0.6" fill="none" /><path d="M1575.9,786.0 L1572.5,790.6" stroke="#505050" stroke-width="0.6" fill="none" /><path d="M1599.7,819.3 L1608.7,826.8 L1624.2,827.8 L1625.2,824.8 L1616.2,821.8Z" stroke="#333" stroke-width="0.9" fill="#eeeeee" /><ellipse cx="1605.2" cy="822.5" rx="1.8" ry="1.0" transform="rotate(35 1605.2 822.5)" fill="#ccc" stroke="#444" stroke-width="0.6"/><ellipse cx="1611.2" cy="814.4" rx="3.0" ry="5.4" transform="rotate(26.3 1611.2 814.4)" fill="#f6f6f6" stroke="#333" stroke-width="0.9"/><path d="M1608.8,819.2 L1616.0,822.8 L1620.8,813.1 L1613.5,809.5Z" stroke="none" stroke-width="0" fill="#f6f6f6" /><path d="M1608.8,819.2 L1616.0,822.8" stroke="#333" stroke-width="0.9" fill="none" /><path d="M1613.5,809.5 L1620.8,813.1" stroke="#333" stroke-width="0.9" fill="none" /><ellipse cx="1618.4" cy="817.9" rx="3.0" ry="5.4" transform="rotate(26.3 1618.4 817.9)" fill="#f2f2f2" stroke="#222" stroke-width="1.1"/><ellipse cx="1618.4" cy="817.9" rx="1.8" ry="3.3" transform="rotate(26.3 1618.4 817.9)" fill="#e2e2e2" stroke="#333" stroke-width="0.8"/><ellipse cx="1618.7" cy="818.1" rx="0.9" ry="1.5" transform="rotate(26.3 1618.4 817.9)" fill="#444"/>
<path d="M1724.4,782.8 L1751.8,802.9 L1749.5,806.0 L1722.1,785.9Z" stroke="#505050" stroke-width="0.7" fill="#cfcfcf" /><path d="M1723.6,783.9 L1751.0,804.0" stroke="#8a8a8a" stroke-width="0.5" fill="none" /><path d="M1722.8,784.9 L1750.2,805.0" stroke="#8a8a8a" stroke-width="0.5" fill="none" /><path d="M1717.2,776.5 L1723.7,781.2 L1724.3,780.4 L1726.3,781.9 L1721.8,788.0 L1719.8,786.5 L1720.4,785.7 L1713.9,781.0Z" stroke="#3c3c3c" stroke-width="0.9" fill="#f4f4f4" /><path d="M1715.6,778.7 L1722.0,783.5" stroke="#505050" stroke-width="0.6" fill="none" /><path d="M1720.5,778.8 L1717.1,783.4" stroke="#505050" stroke-width="0.6" fill="none" /><path d="M1742.6,812.7 L1751.6,820.2 L1769.6,821.2 L1770.6,818.2 L1761.6,815.2Z" stroke="#333" stroke-width="0.9" fill="#eeeeee" /><ellipse cx="1748.1" cy="815.9" rx="1.8" ry="1.0" transform="rotate(35 1748.1 815.9)" fill="#ccc" stroke="#444" stroke-width="0.6"/><ellipse cx="1754.1" cy="806.0" rx="4.0" ry="7.2" transform="rotate(26.3 1754.1 806.0)" fill="#f6f6f6" stroke="#333" stroke-width="0.9"/><path d="M1751.0,812.4 L1760.3,817.1 L1766.7,804.1 L1757.3,799.5Z" stroke="none" stroke-width="0" fill="#f6f6f6" /><path d="M1751.0,812.4 L1760.3,817.1" stroke="#333" stroke-width="0.9" fill="none" /><path d="M1757.3,799.5 L1766.7,804.1" stroke="#333" stroke-width="0.9" fill="none" /><ellipse cx="1763.5" cy="810.6" rx="4.0" ry="7.2" transform="rotate(26.3 1763.5 810.6)" fill="#f2f2f2" stroke="#222" stroke-width="1.1"/><ellipse cx="1764.3" cy="811.0" rx="3.4" ry="5.2" transform="rotate(26.3 1763.5 810.6)" fill="#fafafa" stroke="#333" stroke-width="0.9"/><ellipse cx="1765.3" cy="811.5" rx="2.8" ry="4.3" transform="rotate(26.3 1763.5 810.6)" fill="#fdfdfd" stroke="#555" stroke-width="0.7"/>
<path d="M1579.3,936.1 L1611.5,959.8 L1609.3,962.9 L1577.0,939.2Z" stroke="#505050" stroke-width="0.7" fill="#cfcfcf" /><path d="M1578.5,937.2 L1610.7,960.8" stroke="#8a8a8a" stroke-width="0.5" fill="none" /><path d="M1577.7,938.2 L1610.0,961.9" stroke="#8a8a8a" stroke-width="0.5" fill="none" /><path d="M1572.1,929.8 L1578.6,934.5 L1579.2,933.7 L1581.2,935.2 L1576.7,941.3 L1574.7,939.8 L1575.3,939.0 L1568.8,934.3Z" stroke="#3c3c3c" stroke-width="0.9" fill="#f4f4f4" /><path d="M1570.5,932.0 L1576.9,936.8" stroke="#505050" stroke-width="0.6" fill="none" /><path d="M1575.4,932.1 L1572.0,936.7" stroke="#505050" stroke-width="0.6" fill="none" /><path d="M1611.7,957.8 L1619.0,963.2 L1614.7,969.0 L1607.4,963.6Z" stroke="#333" stroke-width="0.9" fill="#f8f8f8" /><ellipse cx="1617.6" cy="966.7" rx="2.6" ry="5.0" transform="rotate(36 1617.6 966.7)" fill="#dcdcdc" stroke="#2a2a2a" stroke-width="1.0"/><ellipse cx="1617.9" cy="966.9" rx="1.3" ry="3.3" transform="rotate(36 1617.6 966.7)" fill="#9a9a9a" stroke="#333" stroke-width="0.6"/>
<path d="M1567.5,947.1 L1599.7,970.8 L1597.5,973.9 L1565.2,950.2Z" stroke="#505050" stroke-width="0.7" fill="#cfcfcf" /><path d="M1566.7,948.2 L1598.9,971.8" stroke="#8a8a8a" stroke-width="0.5" fill="none" /><path d="M1565.9,949.2 L1598.2,972.9" stroke="#8a8a8a" stroke-width="0.5" fill="none" /><path d="M1560.3,940.8 L1566.8,945.5 L1567.4,944.7 L1569.4,946.2 L1564.9,952.3 L1562.9,950.8 L1563.5,950.0 L1557.0,945.3Z" stroke="#3c3c3c" stroke-width="0.9" fill="#f4f4f4" /><path d="M1558.7,943.0 L1565.1,947.8" stroke="#505050" stroke-width="0.6" fill="none" /><path d="M1563.6,943.1 L1560.2,947.7" stroke="#505050" stroke-width="0.6" fill="none" /><path d="M1599.9,968.8 L1607.2,974.2 L1602.9,980.0 L1595.6,974.6Z" stroke="#333" stroke-width="0.9" fill="#f8f8f8" /><ellipse cx="1605.8" cy="977.7" rx="2.6" ry="5.0" transform="rotate(36 1605.8 977.7)" fill="#dcdcdc" stroke="#2a2a2a" stroke-width="1.0"/><ellipse cx="1606.1" cy="977.9" rx="1.3" ry="3.3" transform="rotate(36 1605.8 977.7)" fill="#9a9a9a" stroke="#333" stroke-width="0.6"/>
<path d="M1727.0,935.6 L1754.4,955.7 L1752.1,958.8 L1724.7,938.7Z" stroke="#505050" stroke-width="0.7" fill="#cfcfcf" /><path d="M1726.2,936.7 L1753.6,956.8" stroke="#8a8a8a" stroke-width="0.5" fill="none" /><path d="M1725.4,937.7 L1752.8,957.8" stroke="#8a8a8a" stroke-width="0.5" fill="none" /><path d="M1719.8,929.3 L1726.3,934.0 L1726.9,933.2 L1728.9,934.7 L1724.4,940.8 L1722.4,939.3 L1723.0,938.5 L1716.5,933.8Z" stroke="#3c3c3c" stroke-width="0.9" fill="#f4f4f4" /><path d="M1718.2,931.5 L1724.6,936.3" stroke="#505050" stroke-width="0.6" fill="none" /><path d="M1723.1,931.6 L1719.7,936.2" stroke="#505050" stroke-width="0.6" fill="none" /><path d="M1748.7,962.8 L1759.2,956.3 L1774.7,964.3 L1762.2,972.3Z" stroke="#333" stroke-width="0.9" fill="#f2f2f2" /><path d="M1748.7,962.8 L1748.7,964.3 L1762.2,973.9 L1774.7,965.9 L1774.7,964.3" stroke="#333" stroke-width="0.9" fill="none" /><path d="M1752.2,957.8 L1763.7,963.8 L1763.7,969.0 L1752.2,963.0Z" stroke="#333" stroke-width="0.9" fill="#e4e4e4" /><path d="M1763.7,963.8 L1768.2,959.8 L1768.2,965.0 L1763.7,969.0Z" stroke="#333" stroke-width="0.9" fill="#d2d2d2" /><path d="M1752.2,957.8 L1757.7,953.8 L1768.2,959.8 L1763.7,963.8Z" stroke="#333" stroke-width="0.9" fill="#fafafa" /><ellipse cx="1769.0" cy="966.5" rx="1.6" ry="1.0" fill="#ccc" stroke="#444" stroke-width="0.6"/><ellipse cx="1756.4" cy="965.6" rx="1.4" ry="0.9" fill="#ccc" stroke="#444" stroke-width="0.6"/>
<path d="M1715.2,946.6 L1742.6,966.7 L1740.3,969.8 L1712.9,949.7Z" stroke="#505050" stroke-width="0.7" fill="#cfcfcf" /><path d="M1714.4,947.7 L1741.8,967.8" stroke="#8a8a8a" stroke-width="0.5" fill="none" /><path d="M1713.6,948.7 L1741.0,968.8" stroke="#8a8a8a" stroke-width="0.5" fill="none" /><path d="M1708.0,940.3 L1714.5,945.0 L1715.1,944.2 L1717.1,945.7 L1712.6,951.8 L1710.6,950.3 L1711.2,949.5 L1704.7,944.8Z" stroke="#3c3c3c" stroke-width="0.9" fill="#f4f4f4" /><path d="M1706.4,942.5 L1712.8,947.3" stroke="#505050" stroke-width="0.6" fill="none" /><path d="M1711.3,942.6 L1707.9,947.2" stroke="#505050" stroke-width="0.6" fill="none" /><path d="M1736.9,973.8 L1747.4,967.3 L1762.9,975.3 L1750.4,983.3Z" stroke="#333" stroke-width="0.9" fill="#f2f2f2" /><path d="M1736.9,973.8 L1736.9,975.3 L1750.4,984.9 L1762.9,976.9 L1762.9,975.3" stroke="#333" stroke-width="0.9" fill="none" /><path d="M1740.4,968.8 L1751.9,974.8 L1751.9,980.0 L1740.4,974.0Z" stroke="#333" stroke-width="0.9" fill="#e4e4e4" /><path d="M1751.9,974.8 L1756.4,970.8 L1756.4,976.0 L1751.9,980.0Z" stroke="#333" stroke-width="0.9" fill="#d2d2d2" /><path d="M1740.4,968.8 L1745.9,964.8 L1756.4,970.8 L1751.9,974.8Z" stroke="#333" stroke-width="0.9" fill="#fafafa" /><ellipse cx="1757.2" cy="977.5" rx="1.6" ry="1.0" fill="#ccc" stroke="#444" stroke-width="0.6"/><ellipse cx="1744.6" cy="976.6" rx="1.4" ry="0.9" fill="#ccc" stroke="#444" stroke-width="0.6"/>
<path d="M1578.5,1087.7 L1607.5,1109.0 L1605.2,1112.1 L1576.2,1090.8Z" stroke="#505050" stroke-width="0.7" fill="#cfcfcf" /><path d="M1577.7,1088.8 L1606.7,1110.1" stroke="#8a8a8a" stroke-width="0.5" fill="none" /><path d="M1576.9,1089.8 L1605.9,1111.1" stroke="#8a8a8a" stroke-width="0.5" fill="none" /><path d="M1571.3,1081.4 L1577.8,1086.1 L1578.4,1085.3 L1580.4,1086.8 L1575.9,1092.9 L1573.9,1091.4 L1574.5,1090.6 L1568.0,1085.9Z" stroke="#3c3c3c" stroke-width="0.9" fill="#f4f4f4" /><path d="M1569.7,1083.6 L1576.1,1088.4" stroke="#505050" stroke-width="0.6" fill="none" /><path d="M1574.6,1083.7 L1571.2,1088.3" stroke="#505050" stroke-width="0.6" fill="none" /><path d="M1598.4,1117.0 L1607.4,1124.5 L1622.9,1125.5 L1623.9,1122.5 L1614.9,1119.5Z" stroke="#333" stroke-width="0.9" fill="#eeeeee" /><ellipse cx="1603.9" cy="1120.2" rx="1.8" ry="1.0" transform="rotate(35 1603.9 1120.2)" fill="#ccc" stroke="#444" stroke-width="0.6"/><ellipse cx="1609.9" cy="1112.1" rx="3.0" ry="5.4" transform="rotate(26.3 1609.9 1112.1)" fill="#f6f6f6" stroke="#333" stroke-width="0.9"/><path d="M1607.5,1116.9 L1614.7,1120.5 L1619.5,1110.8 L1612.2,1107.2Z" stroke="none" stroke-width="0" fill="#f6f6f6" /><path d="M1607.5,1116.9 L1614.7,1120.5" stroke="#333" stroke-width="0.9" fill="none" /><path d="M1612.2,1107.2 L1619.5,1110.8" stroke="#333" stroke-width="0.9" fill="none" /><ellipse cx="1617.1" cy="1115.6" rx="3.0" ry="5.4" transform="rotate(26.3 1617.1 1115.6)" fill="#f2f2f2" stroke="#222" stroke-width="1.1"/><ellipse cx="1617.1" cy="1115.6" rx="1.8" ry="3.3" transform="rotate(26.3 1617.1 1115.6)" fill="#e2e2e2" stroke="#333" stroke-width="0.8"/><ellipse cx="1617.4" cy="1115.8" rx="0.9" ry="1.5" transform="rotate(26.3 1617.1 1115.6)" fill="#444"/>
<path d="M1566.7,1098.7 L1595.7,1120.0 L1593.4,1123.1 L1564.4,1101.8Z" stroke="#505050" stroke-width="0.7" fill="#cfcfcf" /><path d="M1565.9,1099.8 L1594.9,1121.1" stroke="#8a8a8a" stroke-width="0.5" fill="none" /><path d="M1565.1,1100.8 L1594.1,1122.1" stroke="#8a8a8a" stroke-width="0.5" fill="none" /><path d="M1559.5,1092.4 L1566.0,1097.1 L1566.6,1096.3 L1568.6,1097.8 L1564.1,1103.9 L1562.1,1102.4 L1562.7,1101.6 L1556.2,1096.9Z" stroke="#3c3c3c" stroke-width="0.9" fill="#f4f4f4" /><path d="M1557.9,1094.6 L1564.3,1099.4" stroke="#505050" stroke-width="0.6" fill="none" /><path d="M1562.8,1094.7 L1559.4,1099.3" stroke="#505050" stroke-width="0.6" fill="none" /><path d="M1586.6,1128.0 L1595.6,1135.5 L1611.1,1136.5 L1612.1,1133.5 L1603.1,1130.5Z" stroke="#333" stroke-width="0.9" fill="#eeeeee" /><ellipse cx="1592.1" cy="1131.2" rx="1.8" ry="1.0" transform="rotate(35 1592.1 1131.2)" fill="#ccc" stroke="#444" stroke-width="0.6"/><ellipse cx="1598.1" cy="1123.1" rx="3.0" ry="5.4" transform="rotate(26.3 1598.1 1123.1)" fill="#f6f6f6" stroke="#333" stroke-width="0.9"/><path d="M1595.7,1127.9 L1602.9,1131.5 L1607.7,1121.8 L1600.4,1118.2Z" stroke="none" stroke-width="0" fill="#f6f6f6" /><path d="M1595.7,1127.9 L1602.9,1131.5" stroke="#333" stroke-width="0.9" fill="none" /><path d="M1600.4,1118.2 L1607.7,1121.8" stroke="#333" stroke-width="0.9" fill="none" /><ellipse cx="1605.3" cy="1126.6" rx="3.0" ry="5.4" transform="rotate(26.3 1605.3 1126.6)" fill="#f2f2f2" stroke="#222" stroke-width="1.1"/><ellipse cx="1605.3" cy="1126.6" rx="1.8" ry="3.3" transform="rotate(26.3 1605.3 1126.6)" fill="#e2e2e2" stroke="#333" stroke-width="0.8"/><ellipse cx="1605.6" cy="1126.8" rx="0.9" ry="1.5" transform="rotate(26.3 1605.3 1126.6)" fill="#444"/>
<path d="M1727.6,1075.5 L1755.0,1095.6 L1752.7,1098.7 L1725.3,1078.6Z" stroke="#505050" stroke-width="0.7" fill="#cfcfcf" /><path d="M1726.8,1076.6 L1754.2,1096.7" stroke="#8a8a8a" stroke-width="0.5" fill="none" /><path d="M1726.0,1077.6 L1753.4,1097.7" stroke="#8a8a8a" stroke-width="0.5" fill="none" /><path d="M1720.4,1069.2 L1726.9,1073.9 L1727.5,1073.1 L1729.5,1074.6 L1725.0,1080.7 L1723.0,1079.2 L1723.6,1078.4 L1717.1,1073.7Z" stroke="#3c3c3c" stroke-width="0.9" fill="#f4f4f4" /><path d="M1718.8,1071.4 L1725.2,1076.2" stroke="#505050" stroke-width="0.6" fill="none" /><path d="M1723.7,1071.5 L1720.3,1076.1" stroke="#505050" stroke-width="0.6" fill="none" /><path d="M1745.8,1105.4 L1754.8,1112.9 L1772.8,1113.9 L1773.8,1110.9 L1764.8,1107.9Z" stroke="#333" stroke-width="0.9" fill="#eeeeee" /><ellipse cx="1751.3" cy="1108.6" rx="1.8" ry="1.0" transform="rotate(35 1751.3 1108.6)" fill="#ccc" stroke="#444" stroke-width="0.6"/><ellipse cx="1757.3" cy="1098.7" rx="4.0" ry="7.2" transform="rotate(26.3 1757.3 1098.7)" fill="#f6f6f6" stroke="#333" stroke-width="0.9"/><path d="M1754.2,1105.1 L1763.5,1109.8 L1769.9,1096.8 L1760.5,1092.2Z" stroke="none" stroke-width="0" fill="#f6f6f6" /><path d="M1754.2,1105.1 L1763.5,1109.8" stroke="#333" stroke-width="0.9" fill="none" /><path d="M1760.5,1092.2 L1769.9,1096.8" stroke="#333" stroke-width="0.9" fill="none" /><ellipse cx="1766.7" cy="1103.3" rx="4.0" ry="7.2" transform="rotate(26.3 1766.7 1103.3)" fill="#f2f2f2" stroke="#222" stroke-width="1.1"/><ellipse cx="1767.5" cy="1103.7" rx="3.4" ry="5.2" transform="rotate(26.3 1766.7 1103.3)" fill="#fafafa" stroke="#333" stroke-width="0.9"/><ellipse cx="1768.5" cy="1104.2" rx="2.8" ry="4.3" transform="rotate(26.3 1766.7 1103.3)" fill="#fdfdfd" stroke="#555" stroke-width="0.7"/>
<path d="M1710.8,1086.5 L1738.2,1106.6 L1735.9,1109.7 L1708.5,1089.6Z" stroke="#505050" stroke-width="0.7" fill="#cfcfcf" /><path d="M1710.0,1087.6 L1737.4,1107.7" stroke="#8a8a8a" stroke-width="0.5" fill="none" /><path d="M1709.2,1088.6 L1736.6,1108.7" stroke="#8a8a8a" stroke-width="0.5" fill="none" /><path d="M1703.6,1080.2 L1710.1,1084.9 L1710.7,1084.1 L1712.7,1085.6 L1708.2,1091.7 L1706.2,1090.2 L1706.8,1089.4 L1700.3,1084.7Z" stroke="#3c3c3c" stroke-width="0.9" fill="#f4f4f4" /><path d="M1702.0,1082.4 L1708.4,1087.2" stroke="#505050" stroke-width="0.6" fill="none" /><path d="M1706.9,1082.5 L1703.5,1087.1" stroke="#505050" stroke-width="0.6" fill="none" /><path d="M1729.0,1116.4 L1738.0,1123.9 L1756.0,1124.9 L1757.0,1121.9 L1748.0,1118.9Z" stroke="#333" stroke-width="0.9" fill="#eeeeee" /><ellipse cx="1734.5" cy="1119.6" rx="1.8" ry="1.0" transform="rotate(35 1734.5 1119.6)" fill="#ccc" stroke="#444" stroke-width="0.6"/><ellipse cx="1740.5" cy="1109.7" rx="4.0" ry="7.2" transform="rotate(26.3 1740.5 1109.7)" fill="#f6f6f6" stroke="#333" stroke-width="0.9"/><path d="M1737.4,1116.1 L1746.7,1120.8 L1753.1,1107.8 L1743.7,1103.2Z" stroke="none" stroke-width="0" fill="#f6f6f6" /><path d="M1737.4,1116.1 L1746.7,1120.8" stroke="#333" stroke-width="0.9" fill="none" /><path d="M1743.7,1103.2 L1753.1,1107.8" stroke="#333" stroke-width="0.9" fill="none" /><ellipse cx="1749.9" cy="1114.3" rx="4.0" ry="7.2" transform="rotate(26.3 1749.9 1114.3)" fill="#f2f2f2" stroke="#222" stroke-width="1.1"/><ellipse cx="1750.7" cy="1114.7" rx="3.4" ry="5.2" transform="rotate(26.3 1749.9 1114.3)" fill="#fafafa" stroke="#333" stroke-width="0.9"/><ellipse cx="1751.7" cy="1115.2" rx="2.8" ry="4.3" transform="rotate(26.3 1749.9 1114.3)" fill="#fdfdfd" stroke="#555" stroke-width="0.7"/>
</svg>
</body></html>
